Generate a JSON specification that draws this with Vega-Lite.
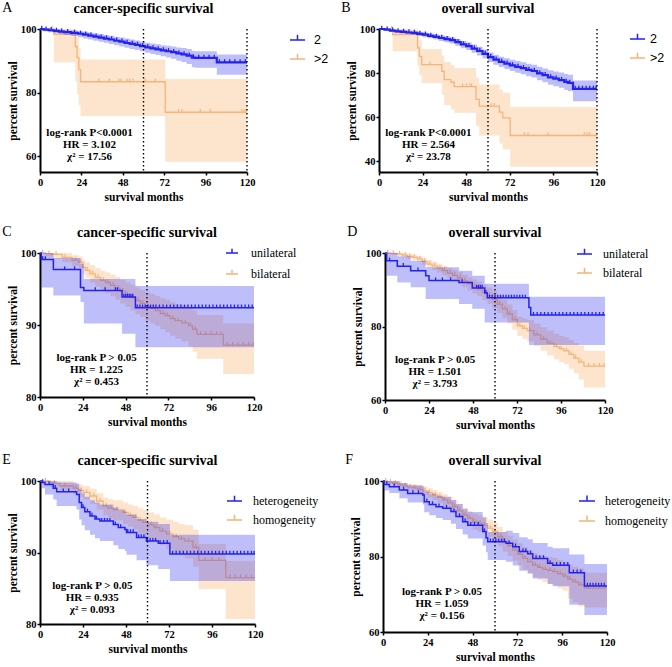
{
"$schema":"https://vega.github.io/schema/vega-lite/v6.json",
"padding":{"left":2,"top":0,"right":0,"bottom":0},
"background":"white",
"datasets":{
"km":[
{"p":"A","g":"2","t":0,"s":100,"lo":100,"hi":100},{"p":"A","g":"2","t":2,"s":99.8,"lo":99.3,"hi":100},{"p":"A","g":"2","t":5,"s":99.6,"lo":99.0,"hi":100},{"p":"A","g":"2","t":8,"s":99.4,"lo":98.7,"hi":99.9},{"p":"A","g":"2","t":11,"s":99.2,"lo":98.4,"hi":99.8},{"p":"A","g":"2","t":14,"s":99.0,"lo":98.1,"hi":99.6},{"p":"A","g":"2","t":18,"s":98.8,"lo":97.8,"hi":99.5},{"p":"A","g":"2","t":22,"s":98.5,"lo":97.4,"hi":99.3},{"p":"A","g":"2","t":25,"s":98.2,"lo":97.0,"hi":99.1},{"p":"A","g":"2","t":28,"s":97.9,"lo":96.7,"hi":98.9},{"p":"A","g":"2","t":31,"s":97.6,"lo":96.3,"hi":98.6},{"p":"A","g":"2","t":34,"s":97.3,"lo":96.0,"hi":98.4},{"p":"A","g":"2","t":37,"s":97.0,"lo":95.7,"hi":98.1},{"p":"A","g":"2","t":40,"s":96.7,"lo":95.3,"hi":97.9},{"p":"A","g":"2","t":43,"s":96.3,"lo":94.9,"hi":97.6},{"p":"A","g":"2","t":46,"s":96.0,"lo":94.5,"hi":97.3},{"p":"A","g":"2","t":49,"s":95.6,"lo":94.1,"hi":97.0},{"p":"A","g":"2","t":52,"s":95.3,"lo":93.7,"hi":96.7},{"p":"A","g":"2","t":55,"s":95.0,"lo":93.4,"hi":96.4},{"p":"A","g":"2","t":58,"s":94.6,"lo":93.0,"hi":96.1},{"p":"A","g":"2","t":61,"s":94.2,"lo":92.5,"hi":95.7},{"p":"A","g":"2","t":64,"s":93.9,"lo":92.1,"hi":95.4},{"p":"A","g":"2","t":67,"s":93.6,"lo":91.8,"hi":95.2},{"p":"A","g":"2","t":70,"s":93.3,"lo":91.4,"hi":94.9},{"p":"A","g":"2","t":73,"s":93.0,"lo":91.0,"hi":94.7},{"p":"A","g":"2","t":76,"s":92.7,"lo":90.6,"hi":94.5},{"p":"A","g":"2","t":79,"s":92.3,"lo":90.0,"hi":94.2},{"p":"A","g":"2","t":82,"s":92.0,"lo":89.6,"hi":94.0},{"p":"A","g":"2","t":85,"s":91.6,"lo":89.0,"hi":93.7},{"p":"A","g":"2","t":88,"s":91.0,"lo":88.0,"hi":93.1},{"p":"A","g":"2","t":90,"s":90.9,"lo":87.8,"hi":93.0},{"p":"A","g":"2","t":102.5,"s":89.5,"lo":85.6,"hi":92.0},{"p":"A","g":"2","t":120,"s":89.5,"lo":85.6,"hi":92.0},
{"p":"A","g":">2","t":0,"s":100,"lo":100,"hi":100},{"p":"A","g":">2","t":8,"s":98.3,"lo":89.5,"hi":100},{"p":"A","g":">2","t":20.5,"s":94.5,"lo":83.5,"hi":99.5},{"p":"A","g":">2","t":21.5,"s":91,"lo":79.5,"hi":97.5},{"p":"A","g":">2","t":22.5,"s":87.2,"lo":76,"hi":94},{"p":"A","g":">2","t":23.5,"s":83.4,"lo":72.6,"hi":90.4},{"p":"A","g":">2","t":72.6,"s":73.8,"lo":58.2,"hi":84.3},{"p":"A","g":">2","t":120,"s":73.8,"lo":58.2,"hi":84.3},
{"p":"B","g":"2","t":0,"s":100,"lo":100,"hi":100},{"p":"B","g":"2","t":3,"s":99.7,"lo":99.3,"hi":100},{"p":"B","g":"2","t":6,"s":99.3,"lo":98.8,"hi":99.9},{"p":"B","g":"2","t":9,"s":98.9,"lo":98.2,"hi":99.6},{"p":"B","g":"2","t":12,"s":98.7,"lo":97.9,"hi":99.4},{"p":"B","g":"2","t":15,"s":98.4,"lo":97.6,"hi":99.2},{"p":"B","g":"2","t":18,"s":98.2,"lo":97.3,"hi":99.0},{"p":"B","g":"2","t":21,"s":97.8,"lo":96.8,"hi":98.7},{"p":"B","g":"2","t":24,"s":97.4,"lo":96.3,"hi":98.4},{"p":"B","g":"2","t":27,"s":96.9,"lo":95.8,"hi":98.0},{"p":"B","g":"2","t":30,"s":96.4,"lo":95.2,"hi":97.6},{"p":"B","g":"2","t":33,"s":95.9,"lo":94.6,"hi":97.2},{"p":"B","g":"2","t":36,"s":95.4,"lo":94.0,"hi":96.8},{"p":"B","g":"2","t":39,"s":94.9,"lo":93.4,"hi":96.3},{"p":"B","g":"2","t":42,"s":94.0,"lo":92.4,"hi":95.5},{"p":"B","g":"2","t":45,"s":93.0,"lo":91.3,"hi":94.6},{"p":"B","g":"2","t":48,"s":92.2,"lo":90.4,"hi":93.9},{"p":"B","g":"2","t":51,"s":91.1,"lo":89.2,"hi":92.9},{"p":"B","g":"2","t":54,"s":90.0,"lo":88.0,"hi":91.9},{"p":"B","g":"2","t":57,"s":88.7,"lo":86.6,"hi":90.7},{"p":"B","g":"2","t":60,"s":87.2,"lo":85.0,"hi":89.3},{"p":"B","g":"2","t":63,"s":86.1,"lo":83.8,"hi":88.3},{"p":"B","g":"2","t":66,"s":85.1,"lo":82.7,"hi":87.4},{"p":"B","g":"2","t":69,"s":84.3,"lo":81.8,"hi":86.7},{"p":"B","g":"2","t":72,"s":83.5,"lo":80.9,"hi":86.0},{"p":"B","g":"2","t":75,"s":82.8,"lo":80.1,"hi":85.4},{"p":"B","g":"2","t":78,"s":82.2,"lo":79.4,"hi":84.9},{"p":"B","g":"2","t":81,"s":81.4,"lo":78.5,"hi":84.2},{"p":"B","g":"2","t":84,"s":80.9,"lo":77.9,"hi":83.8},{"p":"B","g":"2","t":87,"s":79.8,"lo":76.7,"hi":82.8},{"p":"B","g":"2","t":90,"s":79.0,"lo":75.8,"hi":82.1},{"p":"B","g":"2","t":93,"s":78.0,"lo":74.7,"hi":81.2},{"p":"B","g":"2","t":96,"s":77.4,"lo":74.0,"hi":80.7},{"p":"B","g":"2","t":99,"s":76.8,"lo":73.3,"hi":80.2},{"p":"B","g":"2","t":102,"s":76.0,"lo":72.3,"hi":79.6},{"p":"B","g":"2","t":104,"s":75.5,"lo":71.7,"hi":79.2},{"p":"B","g":"2","t":106.8,"s":72.8,"lo":67.2,"hi":76.6},{"p":"B","g":"2","t":120,"s":72.8,"lo":67.2,"hi":76.6},
{"p":"B","g":">2","t":0,"s":100,"lo":100,"hi":100},{"p":"B","g":">2","t":7.5,"s":97.5,"lo":89.9,"hi":100},{"p":"B","g":">2","t":21.2,"s":91.4,"lo":83,"hi":99},{"p":"B","g":">2","t":22.2,"s":87.6,"lo":79,"hi":95},{"p":"B","g":">2","t":23.5,"s":83.8,"lo":75.5,"hi":90.9},{"p":"B","g":">2","t":34.6,"s":80.8,"lo":70,"hi":88},{"p":"B","g":">2","t":35.9,"s":77.0,"lo":65.5,"hi":85},{"p":"B","g":">2","t":39.6,"s":75.8,"lo":63.5,"hi":83.5},{"p":"B","g":">2","t":41.4,"s":73.8,"lo":61.9,"hi":82.3},{"p":"B","g":">2","t":53.4,"s":68.0,"lo":56,"hi":78},{"p":"B","g":">2","t":55.2,"s":64.9,"lo":51.6,"hi":74.8},{"p":"B","g":">2","t":66.3,"s":62.2,"lo":48,"hi":72.5},{"p":"B","g":">2","t":68.1,"s":59.6,"lo":45.3,"hi":71},{"p":"B","g":">2","t":72.2,"s":51.6,"lo":37.4,"hi":64.6},{"p":"B","g":">2","t":120,"s":51.6,"lo":37.4,"hi":64.6},
{"p":"C","g":"unilateral","t":0,"s":100,"lo":100,"hi":100},{"p":"C","g":"unilateral","t":0.7,"s":99.1,"lo":95.2,"hi":100},{"p":"C","g":"unilateral","t":7.5,"s":97.7,"lo":94.1,"hi":99.3},{"p":"C","g":"unilateral","t":22.7,"s":95.2,"lo":93.2,"hi":98.5},{"p":"C","g":"unilateral","t":24.6,"s":94.8,"lo":90.2,"hi":96.4},{"p":"C","g":"unilateral","t":46,"s":93.9,"lo":88.8,"hi":96.4},{"p":"C","g":"unilateral","t":53.5,"s":92.4,"lo":86.9,"hi":95.4},{"p":"C","g":"unilateral","t":120,"s":92.4,"lo":86.9,"hi":95.4},
{"p":"C","g":"bilateral","t":0,"s":100,"lo":100,"hi":100},{"p":"C","g":"bilateral","t":3,"s":99.9,"lo":99.5,"hi":100},{"p":"C","g":"bilateral","t":7,"s":99.8,"lo":99.2,"hi":100},{"p":"C","g":"bilateral","t":12.5,"s":99.4,"lo":98.7,"hi":100},{"p":"C","g":"bilateral","t":18,"s":99.0,"lo":98.2,"hi":99.7},{"p":"C","g":"bilateral","t":21.8,"s":98.7,"lo":97.8,"hi":99.5},{"p":"C","g":"bilateral","t":24,"s":98.0,"lo":97.0,"hi":99.0},{"p":"C","g":"bilateral","t":25.5,"s":97.6,"lo":96.5,"hi":98.7},{"p":"C","g":"bilateral","t":28,"s":97.1,"lo":95.9,"hi":98.3},{"p":"C","g":"bilateral","t":31,"s":96.6,"lo":95.3,"hi":97.9},{"p":"C","g":"bilateral","t":34,"s":96.2,"lo":94.8,"hi":97.5},{"p":"C","g":"bilateral","t":36.7,"s":95.9,"lo":94.4,"hi":97.3},{"p":"C","g":"bilateral","t":39.5,"s":95.5,"lo":94.0,"hi":97.0},{"p":"C","g":"bilateral","t":42.3,"s":95.1,"lo":93.5,"hi":96.7},{"p":"C","g":"bilateral","t":45,"s":94.7,"lo":93.0,"hi":96.3},{"p":"C","g":"bilateral","t":47.9,"s":94.2,"lo":92.5,"hi":95.9},{"p":"C","g":"bilateral","t":50.7,"s":93.8,"lo":92.0,"hi":95.6},{"p":"C","g":"bilateral","t":53.5,"s":93.4,"lo":91.5,"hi":95.2},{"p":"C","g":"bilateral","t":56.3,"s":93.0,"lo":91.1,"hi":94.9},{"p":"C","g":"bilateral","t":59,"s":92.6,"lo":90.6,"hi":94.5},{"p":"C","g":"bilateral","t":62,"s":92.3,"lo":90.2,"hi":94.3},{"p":"C","g":"bilateral","t":64.7,"s":92.0,"lo":89.9,"hi":94.0},{"p":"C","g":"bilateral","t":67.5,"s":91.6,"lo":89.4,"hi":93.7},{"p":"C","g":"bilateral","t":70.2,"s":91.3,"lo":89.0,"hi":93.5},{"p":"C","g":"bilateral","t":73,"s":90.9,"lo":88.5,"hi":93.2},{"p":"C","g":"bilateral","t":75.8,"s":90.6,"lo":88.1,"hi":92.9},{"p":"C","g":"bilateral","t":79.5,"s":90.3,"lo":87.7,"hi":92.7},{"p":"C","g":"bilateral","t":83.3,"s":89.9,"lo":87.0,"hi":92.4},{"p":"C","g":"bilateral","t":85.5,"s":89.4,"lo":86.3,"hi":92.0},{"p":"C","g":"bilateral","t":88,"s":88.7,"lo":85.3,"hi":91.4},{"p":"C","g":"bilateral","t":102.8,"s":87.2,"lo":83.2,"hi":90.2},{"p":"C","g":"bilateral","t":120,"s":87.2,"lo":83.2,"hi":90.2},
{"p":"D","g":"unilateral","t":0,"s":100,"lo":100,"hi":100},{"p":"D","g":"unilateral","t":0.9,"s":97.9,"lo":93.8,"hi":100},{"p":"D","g":"unilateral","t":6.7,"s":96.4,"lo":92.0,"hi":99.1},{"p":"D","g":"unilateral","t":14,"s":95.2,"lo":90.7,"hi":97.9},{"p":"D","g":"unilateral","t":22.2,"s":93.8,"lo":87.5,"hi":96.1},{"p":"D","g":"unilateral","t":24,"s":92.5,"lo":87.5,"hi":96.1},{"p":"D","g":"unilateral","t":40.4,"s":92.0,"lo":86.1,"hi":95.2},{"p":"D","g":"unilateral","t":47.6,"s":90.5,"lo":84.8,"hi":93.8},{"p":"D","g":"unilateral","t":54.4,"s":89.1,"lo":81.1,"hi":91.6},{"p":"D","g":"unilateral","t":55.8,"s":87.8,"lo":81.1,"hi":91.6},{"p":"D","g":"unilateral","t":78.5,"s":85.2,"lo":75.0,"hi":88.1},{"p":"D","g":"unilateral","t":79.5,"s":83.1,"lo":75.0,"hi":88.1},{"p":"D","g":"unilateral","t":120,"s":83.1,"lo":75.0,"hi":88.1},
{"p":"D","g":"bilateral","t":0,"s":100,"lo":100,"hi":100},{"p":"D","g":"bilateral","t":3,"s":99.9,"lo":99.5,"hi":100},{"p":"D","g":"bilateral","t":6.7,"s":99.7,"lo":99.2,"hi":100},{"p":"D","g":"bilateral","t":9.5,"s":99.4,"lo":98.8,"hi":100},{"p":"D","g":"bilateral","t":12.2,"s":99.1,"lo":98.4,"hi":99.7},{"p":"D","g":"bilateral","t":15,"s":98.8,"lo":98.0,"hi":99.5},{"p":"D","g":"bilateral","t":17.6,"s":98.4,"lo":97.6,"hi":99.2},{"p":"D","g":"bilateral","t":20.3,"s":97.7,"lo":96.8,"hi":98.6},{"p":"D","g":"bilateral","t":23,"s":97.0,"lo":96.0,"hi":98.0},{"p":"D","g":"bilateral","t":25.7,"s":96.5,"lo":95.4,"hi":97.6},{"p":"D","g":"bilateral","t":28.5,"s":95.9,"lo":94.7,"hi":97.1},{"p":"D","g":"bilateral","t":31.2,"s":95.2,"lo":93.9,"hi":96.5},{"p":"D","g":"bilateral","t":34,"s":94.5,"lo":93.1,"hi":95.9},{"p":"D","g":"bilateral","t":36.8,"s":93.9,"lo":92.4,"hi":95.4},{"p":"D","g":"bilateral","t":39.5,"s":93.2,"lo":91.6,"hi":94.8},{"p":"D","g":"bilateral","t":42.3,"s":92.4,"lo":90.7,"hi":94.1},{"p":"D","g":"bilateral","t":45,"s":91.6,"lo":89.8,"hi":93.4},{"p":"D","g":"bilateral","t":47.7,"s":90.9,"lo":89.0,"hi":92.8},{"p":"D","g":"bilateral","t":50.4,"s":90.2,"lo":88.2,"hi":92.2},{"p":"D","g":"bilateral","t":53.1,"s":89.3,"lo":87.2,"hi":91.4},{"p":"D","g":"bilateral","t":55.8,"s":88.4,"lo":86.2,"hi":90.6},{"p":"D","g":"bilateral","t":58.6,"s":87.3,"lo":85.0,"hi":89.6},{"p":"D","g":"bilateral","t":61.3,"s":86.1,"lo":83.7,"hi":88.5},{"p":"D","g":"bilateral","t":64,"s":84.8,"lo":82.3,"hi":87.3},{"p":"D","g":"bilateral","t":66.7,"s":83.4,"lo":80.8,"hi":86.0},{"p":"D","g":"bilateral","t":69.5,"s":81.8,"lo":79.1,"hi":84.5},{"p":"D","g":"bilateral","t":72.2,"s":80.2,"lo":77.4,"hi":82.6},{"p":"D","g":"bilateral","t":75,"s":79.5,"lo":76.6,"hi":82.2},{"p":"D","g":"bilateral","t":77.6,"s":78.9,"lo":75.9,"hi":81.8},{"p":"D","g":"bilateral","t":81.3,"s":77.7,"lo":74.6,"hi":80.8},{"p":"D","g":"bilateral","t":84.9,"s":76.6,"lo":73.4,"hi":79.8},{"p":"D","g":"bilateral","t":88.5,"s":75.5,"lo":72.1,"hi":78.9},{"p":"D","g":"bilateral","t":92.2,"s":74.5,"lo":71.0,"hi":78.0},{"p":"D","g":"bilateral","t":95,"s":73.9,"lo":70.3,"hi":77.5},{"p":"D","g":"bilateral","t":97.6,"s":73.4,"lo":69.7,"hi":77.1},{"p":"D","g":"bilateral","t":100.3,"s":72.4,"lo":68.5,"hi":76.3},{"p":"D","g":"bilateral","t":103,"s":71.4,"lo":67.3,"hi":75.5},{"p":"D","g":"bilateral","t":105.7,"s":70.3,"lo":65.6,"hi":74.8},{"p":"D","g":"bilateral","t":108.5,"s":69.2,"lo":63.4,"hi":73.4},{"p":"D","g":"bilateral","t":120,"s":69.2,"lo":63.4,"hi":73.4},
{"p":"E","g":"heterogeneity","t":0,"s":100,"lo":100,"hi":100},{"p":"E","g":"heterogeneity","t":0.9,"s":99.8,"lo":99.0,"hi":100},{"p":"E","g":"heterogeneity","t":2.8,"s":99.5,"lo":98.1,"hi":100},{"p":"E","g":"heterogeneity","t":7.4,"s":99.0,"lo":97.4,"hi":100},{"p":"E","g":"heterogeneity","t":9.3,"s":98.5,"lo":96.5,"hi":99.8},{"p":"E","g":"heterogeneity","t":20.4,"s":98.1,"lo":96.0,"hi":99.6},{"p":"E","g":"heterogeneity","t":21.9,"s":97.0,"lo":94.6,"hi":98.9},{"p":"E","g":"heterogeneity","t":23.2,"s":96.3,"lo":93.8,"hi":98.3},{"p":"E","g":"heterogeneity","t":25,"s":95.7,"lo":93.1,"hi":97.8},{"p":"E","g":"heterogeneity","t":27.9,"s":95.1,"lo":92.5,"hi":97.3},{"p":"E","g":"heterogeneity","t":30.7,"s":94.7,"lo":92.0,"hi":97.0},{"p":"E","g":"heterogeneity","t":33.4,"s":94.4,"lo":91.6,"hi":96.7},{"p":"E","g":"heterogeneity","t":40.9,"s":93.9,"lo":91.0,"hi":96.3},{"p":"E","g":"heterogeneity","t":43.7,"s":93.5,"lo":90.5,"hi":95.9},{"p":"E","g":"heterogeneity","t":47.4,"s":93.2,"lo":90.2,"hi":95.7},{"p":"E","g":"heterogeneity","t":48.3,"s":92.8,"lo":89.7,"hi":95.3},{"p":"E","g":"heterogeneity","t":53.9,"s":92.1,"lo":88.9,"hi":94.7},{"p":"E","g":"heterogeneity","t":59.4,"s":91.6,"lo":88.2,"hi":94.3},{"p":"E","g":"heterogeneity","t":66,"s":91.3,"lo":87.7,"hi":94.0},{"p":"E","g":"heterogeneity","t":72.5,"s":89.8,"lo":86.0,"hi":92.5},{"p":"E","g":"heterogeneity","t":120,"s":89.8,"lo":86.0,"hi":92.5},
{"p":"E","g":"homogeneity","t":0,"s":100,"lo":100,"hi":100},{"p":"E","g":"homogeneity","t":5.6,"s":99.7,"lo":99.2,"hi":100},{"p":"E","g":"homogeneity","t":11.1,"s":99.3,"lo":98.7,"hi":100},{"p":"E","g":"homogeneity","t":18.6,"s":99.0,"lo":98.2,"hi":99.7},{"p":"E","g":"homogeneity","t":21.4,"s":98.7,"lo":97.8,"hi":99.5},{"p":"E","g":"homogeneity","t":24.2,"s":98.4,"lo":97.4,"hi":99.3},{"p":"E","g":"homogeneity","t":27.9,"s":97.9,"lo":96.8,"hi":98.9},{"p":"E","g":"homogeneity","t":31.6,"s":97.2,"lo":96.0,"hi":98.3},{"p":"E","g":"homogeneity","t":35.3,"s":96.5,"lo":95.2,"hi":97.7},{"p":"E","g":"homogeneity","t":38.1,"s":96.2,"lo":94.8,"hi":97.5},{"p":"E","g":"homogeneity","t":40.9,"s":96.0,"lo":94.5,"hi":97.3},{"p":"E","g":"homogeneity","t":46.4,"s":95.6,"lo":94.0,"hi":97.0},{"p":"E","g":"homogeneity","t":49.2,"s":95.2,"lo":93.6,"hi":96.7},{"p":"E","g":"homogeneity","t":52,"s":94.9,"lo":93.2,"hi":96.5},{"p":"E","g":"homogeneity","t":54.8,"s":94.5,"lo":92.7,"hi":96.2},{"p":"E","g":"homogeneity","t":57.6,"s":94.2,"lo":92.4,"hi":95.9},{"p":"E","g":"homogeneity","t":60.4,"s":93.9,"lo":92.0,"hi":95.6},{"p":"E","g":"homogeneity","t":63.6,"s":93.5,"lo":91.6,"hi":95.3},{"p":"E","g":"homogeneity","t":66.9,"s":93.0,"lo":91.0,"hi":94.9},{"p":"E","g":"homogeneity","t":70.6,"s":92.6,"lo":90.5,"hi":94.6},{"p":"E","g":"homogeneity","t":74.3,"s":92.2,"lo":90.0,"hi":94.3},{"p":"E","g":"homogeneity","t":77.5,"s":91.9,"lo":89.6,"hi":94.0},{"p":"E","g":"homogeneity","t":80.8,"s":91.6,"lo":89.2,"hi":93.8},{"p":"E","g":"homogeneity","t":85.4,"s":90.7,"lo":88.0,"hi":93.2},{"p":"E","g":"homogeneity","t":88.6,"s":88.9,"lo":84.9,"hi":91.2},{"p":"E","g":"homogeneity","t":103.7,"s":86.5,"lo":80.7,"hi":88.8},{"p":"E","g":"homogeneity","t":120,"s":86.5,"lo":80.7,"hi":88.8},
{"p":"F","g":"heterogeneity","t":0,"s":100,"lo":100,"hi":100},{"p":"F","g":"heterogeneity","t":0.7,"s":99.1,"lo":97.5,"hi":100},{"p":"F","g":"heterogeneity","t":3.4,"s":98.5,"lo":96.8,"hi":100},{"p":"F","g":"heterogeneity","t":8.75,"s":97.6,"lo":95.4,"hi":99.5},{"p":"F","g":"heterogeneity","t":13.2,"s":96.7,"lo":94.3,"hi":98.9},{"p":"F","g":"heterogeneity","t":21.3,"s":96.3,"lo":93.8,"hi":98.6},{"p":"F","g":"heterogeneity","t":22.1,"s":94.5,"lo":91.7,"hi":97.2},{"p":"F","g":"heterogeneity","t":24.8,"s":93.8,"lo":90.9,"hi":96.6},{"p":"F","g":"heterogeneity","t":28.4,"s":93.2,"lo":90.2,"hi":96.1},{"p":"F","g":"heterogeneity","t":32,"s":92.8,"lo":89.7,"hi":95.8},{"p":"F","g":"heterogeneity","t":36.4,"s":91.9,"lo":88.7,"hi":95.0},{"p":"F","g":"heterogeneity","t":39.1,"s":90.6,"lo":87.3,"hi":93.9},{"p":"F","g":"heterogeneity","t":42.7,"s":89.2,"lo":85.8,"hi":92.6},{"p":"F","g":"heterogeneity","t":45.4,"s":88.3,"lo":84.8,"hi":91.8},{"p":"F","g":"heterogeneity","t":53.4,"s":86.6,"lo":82.9,"hi":90.3},{"p":"F","g":"heterogeneity","t":55.2,"s":85.0,"lo":81.1,"hi":88.9},{"p":"F","g":"heterogeneity","t":56.1,"s":83.9,"lo":79.1,"hi":86.5},{"p":"F","g":"heterogeneity","t":65.9,"s":83.5,"lo":78.6,"hi":86.8},{"p":"F","g":"heterogeneity","t":69.5,"s":82.6,"lo":77.6,"hi":86.2},{"p":"F","g":"heterogeneity","t":73,"s":81.3,"lo":76.2,"hi":85.1},{"p":"F","g":"heterogeneity","t":77.5,"s":80.7,"lo":75.5,"hi":84.6},{"p":"F","g":"heterogeneity","t":80.2,"s":79.5,"lo":74.2,"hi":83.6},{"p":"F","g":"heterogeneity","t":88.2,"s":78.2,"lo":72.7,"hi":82.6},{"p":"F","g":"heterogeneity","t":90.9,"s":77.7,"lo":72.1,"hi":82.2},{"p":"F","g":"heterogeneity","t":99.8,"s":75.7,"lo":67.2,"hi":80.5},{"p":"F","g":"heterogeneity","t":107.9,"s":72.2,"lo":64.5,"hi":78.0},{"p":"F","g":"heterogeneity","t":120,"s":72.2,"lo":64.5,"hi":78.0},
{"p":"F","g":"homogeneity","t":0,"s":100,"lo":100,"hi":100},{"p":"F","g":"homogeneity","t":2.6,"s":99.7,"lo":99.2,"hi":100},{"p":"F","g":"homogeneity","t":5.2,"s":99.4,"lo":98.8,"hi":100},{"p":"F","g":"homogeneity","t":7.9,"s":99.0,"lo":98.3,"hi":99.8},{"p":"F","g":"homogeneity","t":10.5,"s":98.7,"lo":97.9,"hi":99.5},{"p":"F","g":"homogeneity","t":13.2,"s":98.4,"lo":97.5,"hi":99.3},{"p":"F","g":"homogeneity","t":15.9,"s":98.2,"lo":97.2,"hi":99.1},{"p":"F","g":"homogeneity","t":18.6,"s":97.8,"lo":96.7,"hi":98.8},{"p":"F","g":"homogeneity","t":21.3,"s":97.4,"lo":96.2,"hi":98.5},{"p":"F","g":"homogeneity","t":24,"s":96.9,"lo":95.6,"hi":98.1},{"p":"F","g":"homogeneity","t":26.6,"s":96.3,"lo":94.9,"hi":97.6},{"p":"F","g":"homogeneity","t":29.3,"s":95.7,"lo":94.2,"hi":97.1},{"p":"F","g":"homogeneity","t":32,"s":95.0,"lo":93.4,"hi":96.5},{"p":"F","g":"homogeneity","t":34.7,"s":94.2,"lo":92.5,"hi":95.8},{"p":"F","g":"homogeneity","t":37.3,"s":93.2,"lo":91.4,"hi":94.9},{"p":"F","g":"homogeneity","t":40,"s":92.1,"lo":90.2,"hi":93.9},{"p":"F","g":"homogeneity","t":42.7,"s":91.0,"lo":89.0,"hi":92.9},{"p":"F","g":"homogeneity","t":45.4,"s":90.1,"lo":88.0,"hi":92.1},{"p":"F","g":"homogeneity","t":48,"s":89.2,"lo":87.1,"hi":91.3},{"p":"F","g":"homogeneity","t":50.7,"s":88.8,"lo":86.6,"hi":90.9},{"p":"F","g":"homogeneity","t":53.4,"s":88.3,"lo":86.1,"hi":90.5},{"p":"F","g":"homogeneity","t":56.1,"s":87.5,"lo":85.2,"hi":89.8},{"p":"F","g":"homogeneity","t":58.8,"s":86.6,"lo":84.2,"hi":89.0},{"p":"F","g":"homogeneity","t":61.5,"s":85.3,"lo":82.8,"hi":87.8},{"p":"F","g":"homogeneity","t":64.1,"s":83.9,"lo":81.3,"hi":86.5},{"p":"F","g":"homogeneity","t":66.8,"s":82.8,"lo":80.1,"hi":85.5},{"p":"F","g":"homogeneity","t":69.5,"s":81.7,"lo":78.9,"hi":84.5},{"p":"F","g":"homogeneity","t":72.2,"s":80.6,"lo":77.7,"hi":83.5},{"p":"F","g":"homogeneity","t":74.8,"s":79.5,"lo":76.5,"hi":82.5},{"p":"F","g":"homogeneity","t":77.5,"s":78.6,"lo":75.5,"hi":81.7},{"p":"F","g":"homogeneity","t":80.2,"s":77.7,"lo":74.5,"hi":80.9},{"p":"F","g":"homogeneity","t":82.9,"s":77.1,"lo":73.8,"hi":80.4},{"p":"F","g":"homogeneity","t":85.5,"s":76.6,"lo":73.2,"hi":80.0},{"p":"F","g":"homogeneity","t":88.2,"s":76.3,"lo":72.8,"hi":79.8},{"p":"F","g":"homogeneity","t":90.9,"s":76.0,"lo":72.4,"hi":79.6},{"p":"F","g":"homogeneity","t":93.6,"s":75.4,"lo":71.6,"hi":79.1},{"p":"F","g":"homogeneity","t":96.3,"s":74.8,"lo":70.9,"hi":78.6},{"p":"F","g":"homogeneity","t":99,"s":74.0,"lo":68.8,"hi":77.9},{"p":"F","g":"homogeneity","t":101.6,"s":73.3,"lo":67.8,"hi":77.3},{"p":"F","g":"homogeneity","t":104.7,"s":72.5,"lo":66.8,"hi":76.8},{"p":"F","g":"homogeneity","t":107.9,"s":71.6,"lo":66.5,"hi":75.7},{"p":"F","g":"homogeneity","t":120,"s":71.6,"lo":66.5,"hi":75.7}
],
"cens":[
{"p":"A","g":"2","t":1,"s":100},{"p":"A","g":"2","t":3.5,"s":99.8},{"p":"A","g":"2","t":6.5,"s":99.6},{"p":"A","g":"2","t":9.5,"s":99.4},{"p":"A","g":"2","t":12.5,"s":99.2},{"p":"A","g":"2","t":16,"s":99.0},{"p":"A","g":"2","t":20,"s":98.8},{"p":"A","g":"2","t":23.5,"s":98.5},{"p":"A","g":"2","t":26.5,"s":98.2},{"p":"A","g":"2","t":29.5,"s":97.9},{"p":"A","g":"2","t":32.5,"s":97.6},{"p":"A","g":"2","t":35.5,"s":97.3},{"p":"A","g":"2","t":38.5,"s":97.0},{"p":"A","g":"2","t":41.5,"s":96.7},{"p":"A","g":"2","t":44.5,"s":96.3},{"p":"A","g":"2","t":47.5,"s":96.0},{"p":"A","g":"2","t":50.5,"s":95.6},{"p":"A","g":"2","t":53.5,"s":95.3},{"p":"A","g":"2","t":56.5,"s":95.0},{"p":"A","g":"2","t":59.5,"s":94.6},{"p":"A","g":"2","t":62.5,"s":94.2},{"p":"A","g":"2","t":65.5,"s":93.9},{"p":"A","g":"2","t":68.5,"s":93.6},{"p":"A","g":"2","t":71.5,"s":93.3},{"p":"A","g":"2","t":74.5,"s":93.0},{"p":"A","g":"2","t":77.5,"s":92.7},{"p":"A","g":"2","t":80.5,"s":92.3},{"p":"A","g":"2","t":83.5,"s":92.0},{"p":"A","g":"2","t":86.5,"s":91.6},{"p":"A","g":"2","t":89,"s":91.0},{"p":"A","g":"2","t":92,"s":90.9},{"p":"A","g":"2","t":95,"s":90.9},{"p":"A","g":"2","t":98,"s":90.9},{"p":"A","g":"2","t":101,"s":90.9},{"p":"A","g":"2","t":104,"s":89.5},{"p":"A","g":"2","t":107,"s":89.5},{"p":"A","g":"2","t":110,"s":89.5},{"p":"A","g":"2","t":113,"s":89.5},{"p":"A","g":"2","t":116,"s":89.5},{"p":"A","g":"2","t":119,"s":89.5},
{"p":"A","g":">2","t":7,"s":100},{"p":"A","g":">2","t":34.1,"s":83.4},{"p":"A","g":">2","t":40.3,"s":83.4},{"p":"A","g":">2","t":45.7,"s":83.4},{"p":"A","g":">2","t":47,"s":83.4},{"p":"A","g":">2","t":50.5,"s":83.4},{"p":"A","g":">2","t":52,"s":83.4},{"p":"A","g":">2","t":54,"s":83.4},{"p":"A","g":">2","t":61.1,"s":83.4},{"p":"A","g":">2","t":66.9,"s":83.4},{"p":"A","g":">2","t":80.3,"s":73.8},{"p":"A","g":">2","t":82.3,"s":73.8},{"p":"A","g":">2","t":92.9,"s":73.8},{"p":"A","g":">2","t":98.7,"s":73.8},{"p":"A","g":">2","t":117,"s":73.8},{"p":"A","g":">2","t":118.3,"s":73.8},{"p":"A","g":">2","t":119.5,"s":73.8},
{"p":"B","g":"2","t":1.5,"s":100},{"p":"B","g":"2","t":4.5,"s":99.7},{"p":"B","g":"2","t":7.5,"s":99.3},{"p":"B","g":"2","t":10.5,"s":98.9},{"p":"B","g":"2","t":13.5,"s":98.7},{"p":"B","g":"2","t":16.5,"s":98.4},{"p":"B","g":"2","t":19.5,"s":98.2},{"p":"B","g":"2","t":22.5,"s":97.8},{"p":"B","g":"2","t":25.5,"s":97.4},{"p":"B","g":"2","t":28.5,"s":96.9},{"p":"B","g":"2","t":31.5,"s":96.4},{"p":"B","g":"2","t":34.5,"s":95.9},{"p":"B","g":"2","t":37.5,"s":95.4},{"p":"B","g":"2","t":40.5,"s":94.9},{"p":"B","g":"2","t":43.5,"s":94.0},{"p":"B","g":"2","t":46.5,"s":93.0},{"p":"B","g":"2","t":49.5,"s":92.2},{"p":"B","g":"2","t":52.5,"s":91.1},{"p":"B","g":"2","t":55.5,"s":90.0},{"p":"B","g":"2","t":58.5,"s":88.7},{"p":"B","g":"2","t":61.5,"s":87.2},{"p":"B","g":"2","t":64.5,"s":86.1},{"p":"B","g":"2","t":67.5,"s":85.1},{"p":"B","g":"2","t":70.5,"s":84.3},{"p":"B","g":"2","t":73.5,"s":83.5},{"p":"B","g":"2","t":76.5,"s":82.8},{"p":"B","g":"2","t":79.5,"s":82.2},{"p":"B","g":"2","t":82.5,"s":81.4},{"p":"B","g":"2","t":85.5,"s":80.9},{"p":"B","g":"2","t":88.5,"s":79.8},{"p":"B","g":"2","t":91.5,"s":79.0},{"p":"B","g":"2","t":94.5,"s":78.0},{"p":"B","g":"2","t":97.5,"s":77.4},{"p":"B","g":"2","t":100.5,"s":76.8},{"p":"B","g":"2","t":103,"s":76.0},{"p":"B","g":"2","t":105,"s":75.5},{"p":"B","g":"2","t":108,"s":72.8},{"p":"B","g":"2","t":110,"s":72.8},{"p":"B","g":"2","t":112,"s":72.8},{"p":"B","g":"2","t":114,"s":72.8},{"p":"B","g":"2","t":116,"s":72.8},{"p":"B","g":"2","t":118,"s":72.8},{"p":"B","g":"2","t":119.5,"s":72.8},
{"p":"B","g":">2","t":7,"s":100},{"p":"B","g":">2","t":28,"s":83.8},{"p":"B","g":">2","t":46,"s":73.8},{"p":"B","g":">2","t":48,"s":73.8},{"p":"B","g":">2","t":50,"s":73.8},{"p":"B","g":">2","t":51,"s":73.8},{"p":"B","g":">2","t":61.7,"s":64.9},{"p":"B","g":">2","t":63.5,"s":64.9},{"p":"B","g":">2","t":80,"s":51.6},{"p":"B","g":">2","t":82,"s":51.6},{"p":"B","g":">2","t":93,"s":51.6},{"p":"B","g":">2","t":113,"s":51.6},{"p":"B","g":">2","t":114.5,"s":51.6},{"p":"B","g":">2","t":116,"s":51.6},
{"p":"C","g":"unilateral","t":1.5,"s":99.1},{"p":"C","g":"unilateral","t":3,"s":99.1},{"p":"C","g":"unilateral","t":13.8,"s":97.7},{"p":"C","g":"unilateral","t":19.4,"s":97.7},{"p":"C","g":"unilateral","t":31,"s":94.8},{"p":"C","g":"unilateral","t":36.5,"s":94.8},{"p":"C","g":"unilateral","t":42.3,"s":94.8},{"p":"C","g":"unilateral","t":43.5,"s":94.8},{"p":"C","g":"unilateral","t":47,"s":93.9},{"p":"C","g":"unilateral","t":48,"s":93.9},{"p":"C","g":"unilateral","t":49,"s":93.9},{"p":"C","g":"unilateral","t":50,"s":93.9},{"p":"C","g":"unilateral","t":51,"s":93.9},{"p":"C","g":"unilateral","t":52,"s":93.9},{"p":"C","g":"unilateral","t":54.5,"s":92.4},{"p":"C","g":"unilateral","t":56,"s":92.4},{"p":"C","g":"unilateral","t":57.5,"s":92.4},{"p":"C","g":"unilateral","t":59,"s":92.4},{"p":"C","g":"unilateral","t":60.5,"s":92.4},{"p":"C","g":"unilateral","t":62,"s":92.4},{"p":"C","g":"unilateral","t":63.5,"s":92.4},{"p":"C","g":"unilateral","t":65,"s":92.4},{"p":"C","g":"unilateral","t":67,"s":92.4},{"p":"C","g":"unilateral","t":69,"s":92.4},{"p":"C","g":"unilateral","t":71,"s":92.4},{"p":"C","g":"unilateral","t":73,"s":92.4},{"p":"C","g":"unilateral","t":75,"s":92.4},{"p":"C","g":"unilateral","t":77,"s":92.4},{"p":"C","g":"unilateral","t":79,"s":92.4},{"p":"C","g":"unilateral","t":81,"s":92.4},{"p":"C","g":"unilateral","t":83,"s":92.4},{"p":"C","g":"unilateral","t":85,"s":92.4},{"p":"C","g":"unilateral","t":87,"s":92.4},{"p":"C","g":"unilateral","t":89,"s":92.4},{"p":"C","g":"unilateral","t":91,"s":92.4},{"p":"C","g":"unilateral","t":93,"s":92.4},{"p":"C","g":"unilateral","t":95,"s":92.4},{"p":"C","g":"unilateral","t":97,"s":92.4},{"p":"C","g":"unilateral","t":99,"s":92.4},{"p":"C","g":"unilateral","t":101,"s":92.4},{"p":"C","g":"unilateral","t":103,"s":92.4},{"p":"C","g":"unilateral","t":105,"s":92.4},{"p":"C","g":"unilateral","t":107,"s":92.4},{"p":"C","g":"unilateral","t":109,"s":92.4},{"p":"C","g":"unilateral","t":111,"s":92.4},{"p":"C","g":"unilateral","t":113,"s":92.4},{"p":"C","g":"unilateral","t":115,"s":92.4},{"p":"C","g":"unilateral","t":117,"s":92.4},{"p":"C","g":"unilateral","t":119,"s":92.4},
{"p":"C","g":"bilateral","t":1.5,"s":100},{"p":"C","g":"bilateral","t":5,"s":99.9},{"p":"C","g":"bilateral","t":9,"s":99.8},{"p":"C","g":"bilateral","t":14,"s":99.4},{"p":"C","g":"bilateral","t":20,"s":99.0},{"p":"C","g":"bilateral","t":23,"s":98.7},{"p":"C","g":"bilateral","t":26.5,"s":97.6},{"p":"C","g":"bilateral","t":29.5,"s":97.1},{"p":"C","g":"bilateral","t":32.5,"s":96.6},{"p":"C","g":"bilateral","t":35.5,"s":96.2},{"p":"C","g":"bilateral","t":38,"s":95.9},{"p":"C","g":"bilateral","t":41,"s":95.5},{"p":"C","g":"bilateral","t":44,"s":95.1},{"p":"C","g":"bilateral","t":46.5,"s":94.7},{"p":"C","g":"bilateral","t":49,"s":94.2},{"p":"C","g":"bilateral","t":52,"s":93.8},{"p":"C","g":"bilateral","t":55,"s":93.4},{"p":"C","g":"bilateral","t":57.5,"s":93.0},{"p":"C","g":"bilateral","t":60.5,"s":92.6},{"p":"C","g":"bilateral","t":63.5,"s":92.3},{"p":"C","g":"bilateral","t":66,"s":92.0},{"p":"C","g":"bilateral","t":69,"s":91.6},{"p":"C","g":"bilateral","t":71.5,"s":91.3},{"p":"C","g":"bilateral","t":74.5,"s":90.9},{"p":"C","g":"bilateral","t":77.5,"s":90.6},{"p":"C","g":"bilateral","t":81.5,"s":90.3},{"p":"C","g":"bilateral","t":84.5,"s":89.9},{"p":"C","g":"bilateral","t":87,"s":89.4},{"p":"C","g":"bilateral","t":90,"s":88.7},{"p":"C","g":"bilateral","t":93,"s":88.7},{"p":"C","g":"bilateral","t":96,"s":88.7},{"p":"C","g":"bilateral","t":99,"s":88.7},{"p":"C","g":"bilateral","t":101.5,"s":88.7},{"p":"C","g":"bilateral","t":105,"s":87.2},{"p":"C","g":"bilateral","t":108,"s":87.2},{"p":"C","g":"bilateral","t":111,"s":87.2},{"p":"C","g":"bilateral","t":114,"s":87.2},{"p":"C","g":"bilateral","t":117,"s":87.2},{"p":"C","g":"bilateral","t":119.5,"s":87.2},
{"p":"D","g":"unilateral","t":2.5,"s":97.9},{"p":"D","g":"unilateral","t":10,"s":96.4},{"p":"D","g":"unilateral","t":18,"s":95.2},{"p":"D","g":"unilateral","t":27.6,"s":92.5},{"p":"D","g":"unilateral","t":31.3,"s":92.5},{"p":"D","g":"unilateral","t":35.8,"s":92.5},{"p":"D","g":"unilateral","t":42,"s":92.0},{"p":"D","g":"unilateral","t":50,"s":90.5},{"p":"D","g":"unilateral","t":51,"s":90.5},{"p":"D","g":"unilateral","t":52,"s":90.5},{"p":"D","g":"unilateral","t":53,"s":90.5},{"p":"D","g":"unilateral","t":55,"s":89.1},{"p":"D","g":"unilateral","t":57,"s":87.8},{"p":"D","g":"unilateral","t":58.5,"s":87.8},{"p":"D","g":"unilateral","t":60,"s":87.8},{"p":"D","g":"unilateral","t":61.5,"s":87.8},{"p":"D","g":"unilateral","t":63,"s":87.8},{"p":"D","g":"unilateral","t":64.5,"s":87.8},{"p":"D","g":"unilateral","t":66,"s":87.8},{"p":"D","g":"unilateral","t":67.5,"s":87.8},{"p":"D","g":"unilateral","t":69,"s":87.8},{"p":"D","g":"unilateral","t":70.5,"s":87.8},{"p":"D","g":"unilateral","t":72,"s":87.8},{"p":"D","g":"unilateral","t":73.5,"s":87.8},{"p":"D","g":"unilateral","t":75,"s":87.8},{"p":"D","g":"unilateral","t":76.5,"s":87.8},{"p":"D","g":"unilateral","t":81,"s":83.1},{"p":"D","g":"unilateral","t":83,"s":83.1},{"p":"D","g":"unilateral","t":85,"s":83.1},{"p":"D","g":"unilateral","t":87,"s":83.1},{"p":"D","g":"unilateral","t":89,"s":83.1},{"p":"D","g":"unilateral","t":91,"s":83.1},{"p":"D","g":"unilateral","t":93,"s":83.1},{"p":"D","g":"unilateral","t":95,"s":83.1},{"p":"D","g":"unilateral","t":97,"s":83.1},{"p":"D","g":"unilateral","t":99,"s":83.1},{"p":"D","g":"unilateral","t":101,"s":83.1},{"p":"D","g":"unilateral","t":103,"s":83.1},{"p":"D","g":"unilateral","t":105,"s":83.1},{"p":"D","g":"unilateral","t":107,"s":83.1},{"p":"D","g":"unilateral","t":109,"s":83.1},{"p":"D","g":"unilateral","t":111,"s":83.1},{"p":"D","g":"unilateral","t":113,"s":83.1},{"p":"D","g":"unilateral","t":115,"s":83.1},{"p":"D","g":"unilateral","t":117,"s":83.1},{"p":"D","g":"unilateral","t":119,"s":83.1},
{"p":"D","g":"bilateral","t":1.5,"s":100},{"p":"D","g":"bilateral","t":4.5,"s":99.9},{"p":"D","g":"bilateral","t":8,"s":99.7},{"p":"D","g":"bilateral","t":11,"s":99.4},{"p":"D","g":"bilateral","t":13.5,"s":99.1},{"p":"D","g":"bilateral","t":16,"s":98.8},{"p":"D","g":"bilateral","t":19,"s":98.4},{"p":"D","g":"bilateral","t":21.5,"s":97.7},{"p":"D","g":"bilateral","t":24.5,"s":97.0},{"p":"D","g":"bilateral","t":27,"s":96.5},{"p":"D","g":"bilateral","t":30,"s":95.9},{"p":"D","g":"bilateral","t":32.5,"s":95.2},{"p":"D","g":"bilateral","t":35.5,"s":94.5},{"p":"D","g":"bilateral","t":38,"s":93.9},{"p":"D","g":"bilateral","t":41,"s":93.2},{"p":"D","g":"bilateral","t":43.5,"s":92.4},{"p":"D","g":"bilateral","t":46.5,"s":91.6},{"p":"D","g":"bilateral","t":49,"s":90.9},{"p":"D","g":"bilateral","t":52,"s":90.2},{"p":"D","g":"bilateral","t":54.5,"s":89.3},{"p":"D","g":"bilateral","t":57,"s":88.4},{"p":"D","g":"bilateral","t":60,"s":87.3},{"p":"D","g":"bilateral","t":62.5,"s":86.1},{"p":"D","g":"bilateral","t":65.5,"s":84.8},{"p":"D","g":"bilateral","t":68,"s":83.4},{"p":"D","g":"bilateral","t":71,"s":81.8},{"p":"D","g":"bilateral","t":73.5,"s":80.2},{"p":"D","g":"bilateral","t":76,"s":79.5},{"p":"D","g":"bilateral","t":79,"s":78.9},{"p":"D","g":"bilateral","t":83,"s":77.7},{"p":"D","g":"bilateral","t":86.5,"s":76.6},{"p":"D","g":"bilateral","t":90,"s":75.5},{"p":"D","g":"bilateral","t":93.5,"s":74.5},{"p":"D","g":"bilateral","t":96,"s":73.9},{"p":"D","g":"bilateral","t":99,"s":73.4},{"p":"D","g":"bilateral","t":101.5,"s":72.4},{"p":"D","g":"bilateral","t":104,"s":71.4},{"p":"D","g":"bilateral","t":107,"s":70.3},{"p":"D","g":"bilateral","t":111,"s":69.2},{"p":"D","g":"bilateral","t":114,"s":69.2},{"p":"D","g":"bilateral","t":117,"s":69.2},{"p":"D","g":"bilateral","t":119.5,"s":69.2},
{"p":"E","g":"heterogeneity","t":1.5,"s":99.8},{"p":"E","g":"heterogeneity","t":5,"s":99.5},{"p":"E","g":"heterogeneity","t":8.5,"s":99.0},{"p":"E","g":"heterogeneity","t":13,"s":98.5},{"p":"E","g":"heterogeneity","t":16,"s":98.5},{"p":"E","g":"heterogeneity","t":24,"s":96.3},{"p":"E","g":"heterogeneity","t":26.5,"s":95.7},{"p":"E","g":"heterogeneity","t":29,"s":95.1},{"p":"E","g":"heterogeneity","t":31.5,"s":94.7},{"p":"E","g":"heterogeneity","t":34.5,"s":94.4},{"p":"E","g":"heterogeneity","t":36,"s":94.4},{"p":"E","g":"heterogeneity","t":37.5,"s":94.4},{"p":"E","g":"heterogeneity","t":39,"s":94.4},{"p":"E","g":"heterogeneity","t":42,"s":93.9},{"p":"E","g":"heterogeneity","t":45,"s":93.5},{"p":"E","g":"heterogeneity","t":49,"s":92.8},{"p":"E","g":"heterogeneity","t":50.5,"s":92.8},{"p":"E","g":"heterogeneity","t":52,"s":92.8},{"p":"E","g":"heterogeneity","t":55,"s":92.1},{"p":"E","g":"heterogeneity","t":56.5,"s":92.1},{"p":"E","g":"heterogeneity","t":58,"s":92.1},{"p":"E","g":"heterogeneity","t":60,"s":91.6},{"p":"E","g":"heterogeneity","t":61.5,"s":91.6},{"p":"E","g":"heterogeneity","t":63,"s":91.6},{"p":"E","g":"heterogeneity","t":64.5,"s":91.6},{"p":"E","g":"heterogeneity","t":67,"s":91.3},{"p":"E","g":"heterogeneity","t":69,"s":91.3},{"p":"E","g":"heterogeneity","t":71,"s":91.3},{"p":"E","g":"heterogeneity","t":74,"s":89.8},{"p":"E","g":"heterogeneity","t":76,"s":89.8},{"p":"E","g":"heterogeneity","t":78,"s":89.8},{"p":"E","g":"heterogeneity","t":80,"s":89.8},{"p":"E","g":"heterogeneity","t":82,"s":89.8},{"p":"E","g":"heterogeneity","t":84,"s":89.8},{"p":"E","g":"heterogeneity","t":86,"s":89.8},{"p":"E","g":"heterogeneity","t":88,"s":89.8},{"p":"E","g":"heterogeneity","t":90,"s":89.8},{"p":"E","g":"heterogeneity","t":92,"s":89.8},{"p":"E","g":"heterogeneity","t":94,"s":89.8},{"p":"E","g":"heterogeneity","t":96,"s":89.8},{"p":"E","g":"heterogeneity","t":98,"s":89.8},{"p":"E","g":"heterogeneity","t":100,"s":89.8},{"p":"E","g":"heterogeneity","t":102,"s":89.8},{"p":"E","g":"heterogeneity","t":104,"s":89.8},{"p":"E","g":"heterogeneity","t":106,"s":89.8},{"p":"E","g":"heterogeneity","t":108,"s":89.8},{"p":"E","g":"heterogeneity","t":110,"s":89.8},{"p":"E","g":"heterogeneity","t":112,"s":89.8},{"p":"E","g":"heterogeneity","t":114,"s":89.8},{"p":"E","g":"heterogeneity","t":116,"s":89.8},{"p":"E","g":"heterogeneity","t":118,"s":89.8},{"p":"E","g":"heterogeneity","t":119.5,"s":89.8},
{"p":"E","g":"homogeneity","t":3,"s":100},{"p":"E","g":"homogeneity","t":8,"s":99.7},{"p":"E","g":"homogeneity","t":14,"s":99.3},{"p":"E","g":"homogeneity","t":20,"s":99.0},{"p":"E","g":"homogeneity","t":23,"s":98.7},{"p":"E","g":"homogeneity","t":26,"s":98.4},{"p":"E","g":"homogeneity","t":30,"s":97.9},{"p":"E","g":"homogeneity","t":33.5,"s":97.2},{"p":"E","g":"homogeneity","t":37,"s":96.5},{"p":"E","g":"homogeneity","t":39.5,"s":96.2},{"p":"E","g":"homogeneity","t":43,"s":96.0},{"p":"E","g":"homogeneity","t":47.5,"s":95.6},{"p":"E","g":"homogeneity","t":50.5,"s":95.2},{"p":"E","g":"homogeneity","t":53.5,"s":94.9},{"p":"E","g":"homogeneity","t":56,"s":94.5},{"p":"E","g":"homogeneity","t":59,"s":94.2},{"p":"E","g":"homogeneity","t":62,"s":93.9},{"p":"E","g":"homogeneity","t":65,"s":93.5},{"p":"E","g":"homogeneity","t":68.5,"s":93.0},{"p":"E","g":"homogeneity","t":72.5,"s":92.6},{"p":"E","g":"homogeneity","t":76,"s":92.2},{"p":"E","g":"homogeneity","t":79,"s":91.9},{"p":"E","g":"homogeneity","t":83,"s":91.6},{"p":"E","g":"homogeneity","t":87,"s":90.7},{"p":"E","g":"homogeneity","t":92,"s":88.9},{"p":"E","g":"homogeneity","t":96,"s":88.9},{"p":"E","g":"homogeneity","t":100,"s":88.9},{"p":"E","g":"homogeneity","t":106,"s":86.5},{"p":"E","g":"homogeneity","t":109,"s":86.5},{"p":"E","g":"homogeneity","t":112,"s":86.5},{"p":"E","g":"homogeneity","t":115,"s":86.5},{"p":"E","g":"homogeneity","t":118,"s":86.5},
{"p":"F","g":"heterogeneity","t":2,"s":99.1},{"p":"F","g":"heterogeneity","t":6,"s":98.5},{"p":"F","g":"heterogeneity","t":11,"s":97.6},{"p":"F","g":"heterogeneity","t":16,"s":96.7},{"p":"F","g":"heterogeneity","t":19,"s":96.7},{"p":"F","g":"heterogeneity","t":23.5,"s":94.5},{"p":"F","g":"heterogeneity","t":26.5,"s":93.8},{"p":"F","g":"heterogeneity","t":30,"s":93.2},{"p":"F","g":"heterogeneity","t":34,"s":92.8},{"p":"F","g":"heterogeneity","t":38,"s":91.9},{"p":"F","g":"heterogeneity","t":41,"s":90.6},{"p":"F","g":"heterogeneity","t":44,"s":89.2},{"p":"F","g":"heterogeneity","t":47,"s":88.3},{"p":"F","g":"heterogeneity","t":49,"s":88.3},{"p":"F","g":"heterogeneity","t":51,"s":88.3},{"p":"F","g":"heterogeneity","t":54.3,"s":86.6},{"p":"F","g":"heterogeneity","t":57.5,"s":83.9},{"p":"F","g":"heterogeneity","t":59,"s":83.9},{"p":"F","g":"heterogeneity","t":60.5,"s":83.9},{"p":"F","g":"heterogeneity","t":62,"s":83.9},{"p":"F","g":"heterogeneity","t":63.5,"s":83.9},{"p":"F","g":"heterogeneity","t":65,"s":83.9},{"p":"F","g":"heterogeneity","t":67.5,"s":83.5},{"p":"F","g":"heterogeneity","t":71,"s":82.6},{"p":"F","g":"heterogeneity","t":75,"s":81.3},{"p":"F","g":"heterogeneity","t":76.5,"s":81.3},{"p":"F","g":"heterogeneity","t":79,"s":80.7},{"p":"F","g":"heterogeneity","t":82,"s":79.5},{"p":"F","g":"heterogeneity","t":84,"s":79.5},{"p":"F","g":"heterogeneity","t":86,"s":79.5},{"p":"F","g":"heterogeneity","t":89.5,"s":78.2},{"p":"F","g":"heterogeneity","t":93,"s":77.7},{"p":"F","g":"heterogeneity","t":95,"s":77.7},{"p":"F","g":"heterogeneity","t":97,"s":77.7},{"p":"F","g":"heterogeneity","t":99,"s":77.7},{"p":"F","g":"heterogeneity","t":102,"s":75.7},{"p":"F","g":"heterogeneity","t":104,"s":75.7},{"p":"F","g":"heterogeneity","t":106,"s":75.7},{"p":"F","g":"heterogeneity","t":109.5,"s":72.2},{"p":"F","g":"heterogeneity","t":111,"s":72.2},{"p":"F","g":"heterogeneity","t":112.5,"s":72.2},{"p":"F","g":"heterogeneity","t":114,"s":72.2},{"p":"F","g":"heterogeneity","t":115.5,"s":72.2},{"p":"F","g":"heterogeneity","t":117,"s":72.2},{"p":"F","g":"heterogeneity","t":118.5,"s":72.2},
{"p":"F","g":"homogeneity","t":1.5,"s":100},{"p":"F","g":"homogeneity","t":4,"s":99.7},{"p":"F","g":"homogeneity","t":6.5,"s":99.4},{"p":"F","g":"homogeneity","t":9,"s":99.0},{"p":"F","g":"homogeneity","t":12,"s":98.7},{"p":"F","g":"homogeneity","t":14.5,"s":98.4},{"p":"F","g":"homogeneity","t":17,"s":98.2},{"p":"F","g":"homogeneity","t":20,"s":97.8},{"p":"F","g":"homogeneity","t":22.5,"s":97.4},{"p":"F","g":"homogeneity","t":25,"s":96.9},{"p":"F","g":"homogeneity","t":28,"s":96.3},{"p":"F","g":"homogeneity","t":30.5,"s":95.7},{"p":"F","g":"homogeneity","t":33,"s":95.0},{"p":"F","g":"homogeneity","t":36,"s":94.2},{"p":"F","g":"homogeneity","t":38.5,"s":93.2},{"p":"F","g":"homogeneity","t":41,"s":92.1},{"p":"F","g":"homogeneity","t":44,"s":91.0},{"p":"F","g":"homogeneity","t":46.5,"s":90.1},{"p":"F","g":"homogeneity","t":49,"s":89.2},{"p":"F","g":"homogeneity","t":52,"s":88.8},{"p":"F","g":"homogeneity","t":54.5,"s":88.3},{"p":"F","g":"homogeneity","t":57.5,"s":87.5},{"p":"F","g":"homogeneity","t":60,"s":86.6},{"p":"F","g":"homogeneity","t":63,"s":85.3},{"p":"F","g":"homogeneity","t":65.5,"s":83.9},{"p":"F","g":"homogeneity","t":68,"s":82.8},{"p":"F","g":"homogeneity","t":71,"s":81.7},{"p":"F","g":"homogeneity","t":73.5,"s":80.6},{"p":"F","g":"homogeneity","t":76,"s":79.5},{"p":"F","g":"homogeneity","t":79,"s":78.6},{"p":"F","g":"homogeneity","t":81.5,"s":77.7},{"p":"F","g":"homogeneity","t":84,"s":77.1},{"p":"F","g":"homogeneity","t":87,"s":76.6},{"p":"F","g":"homogeneity","t":89.5,"s":76.3},{"p":"F","g":"homogeneity","t":92,"s":76.0},{"p":"F","g":"homogeneity","t":95,"s":75.4},{"p":"F","g":"homogeneity","t":97.5,"s":74.8},{"p":"F","g":"homogeneity","t":100,"s":74.0},{"p":"F","g":"homogeneity","t":103,"s":73.3},{"p":"F","g":"homogeneity","t":106,"s":72.5},{"p":"F","g":"homogeneity","t":110,"s":71.6},{"p":"F","g":"homogeneity","t":113,"s":71.6},{"p":"F","g":"homogeneity","t":116,"s":71.6},{"p":"F","g":"homogeneity","t":119,"s":71.6}
]
},
"spacing":21,
"resolve":{"scale":{"fill":"independent","stroke":"independent"},"legend":{"fill":"independent","stroke":"independent"}},
"vconcat":[
{"spacing":12,"resolve":{"scale":{"fill":"independent","stroke":"independent"},"legend":{"fill":"independent","stroke":"independent"}},
"hconcat":[
{"title":{"text":"A","anchor":"start","frame":"bounds","offset":-12.5,"dx":-5,"fontSize":14,"fontWeight":"normal"},
"vconcat":[{"width":207,"height":143,"title":{"text":"cancer-specific survival","offset":7},
"layer":[
{"data":{"name":"km"},"transform":[{"filter":"datum.p==='A' && datum.g==='>2'"}],"mark":{"type":"area","interpolate":"step-after","fillOpacity":0.3,"opacity":1},"encoding":{"x":{"field":"t","type":"quantitative","scale":{"domain":[0,120],"nice":false},"axis":{"values":[0,24,48,72,96,120],"title":"survival months","labelOverlap":false}},"y":{"field":"lo","type":"quantitative","scale":{"domain":[55,100],"nice":false,"zero":false},"axis":{"values":[60,70,80,90,100],"title":"percent survival","labelOverlap":false}},"y2":{"field":"hi"},"fill":{"field":"g","type":"nominal","scale":{"domain":["2",">2"],"range":["#2828f0","#f5a55a"]},"legend":{"orient":"none","legendX":249,"legendY":2.5,"direction":"vertical","title":null,"symbolType":"M-1,0H1M0,0V-0.7","symbolSize":225,"symbolStrokeWidth":1.5,"labelFont":"Liberation Sans","labelFontSize":12.5,"labelOffset":8,"rowPadding":4,"padding":0}}}},
{"data":{"name":"km"},"transform":[{"filter":"datum.p==='A' && datum.g==='>2'"}],"mark":{"type":"line","interpolate":"step-after","strokeWidth":1.3},"encoding":{"x":{"field":"t","type":"quantitative","scale":{"domain":[0,120],"nice":false},"axis":{"values":[0,24,48,72,96,120],"title":"survival months","labelOverlap":false}},"y":{"field":"s","type":"quantitative","scale":{"domain":[55,100],"nice":false,"zero":false},"axis":{"values":[60,70,80,90,100],"title":"percent survival","labelOverlap":false}},"stroke":{"field":"g","type":"nominal","scale":{"domain":["2",">2"],"range":["#2222f2","#f5b57a"]},"legend":{"orient":"none","legendX":249,"legendY":2.5,"direction":"vertical","title":null,"symbolType":"M-1,0H1M0,0V-0.7","symbolSize":225,"symbolStrokeWidth":1.5,"labelFont":"Liberation Sans","labelFontSize":12.5,"labelOffset":8,"rowPadding":4,"padding":0}}}},
{"data":{"name":"cens"},"transform":[{"filter":"datum.p==='A' && datum.g==='>2'"}],"mark":{"type":"point","shape":"M0,0V-1","filled":false,"size":40,"strokeWidth":1.2,"opacity":1},"encoding":{"x":{"field":"t","type":"quantitative","scale":{"domain":[0,120],"nice":false},"axis":{"values":[0,24,48,72,96,120],"title":"survival months","labelOverlap":false}},"y":{"field":"s","type":"quantitative","scale":{"domain":[55,100],"nice":false,"zero":false},"axis":{"values":[60,70,80,90,100],"title":"percent survival","labelOverlap":false}},"stroke":{"field":"g","type":"nominal","scale":{"domain":["2",">2"],"range":["#2222f2","#f5b57a"]},"legend":{"orient":"none","legendX":249,"legendY":2.5,"direction":"vertical","title":null,"symbolType":"M-1,0H1M0,0V-0.7","symbolSize":225,"symbolStrokeWidth":1.5,"labelFont":"Liberation Sans","labelFontSize":12.5,"labelOffset":8,"rowPadding":4,"padding":0}}}},
{"data":{"name":"km"},"transform":[{"filter":"datum.p==='A' && datum.g==='2'"}],"mark":{"type":"area","interpolate":"step-after","fillOpacity":0.3,"opacity":1},"encoding":{"x":{"field":"t","type":"quantitative","scale":{"domain":[0,120],"nice":false},"axis":{"values":[0,24,48,72,96,120],"title":"survival months","labelOverlap":false}},"y":{"field":"lo","type":"quantitative","scale":{"domain":[55,100],"nice":false,"zero":false},"axis":{"values":[60,70,80,90,100],"title":"percent survival","labelOverlap":false}},"y2":{"field":"hi"},"fill":{"field":"g","type":"nominal","scale":{"domain":["2",">2"],"range":["#2828f0","#f5a55a"]},"legend":{"orient":"none","legendX":249,"legendY":2.5,"direction":"vertical","title":null,"symbolType":"M-1,0H1M0,0V-0.7","symbolSize":225,"symbolStrokeWidth":1.5,"labelFont":"Liberation Sans","labelFontSize":12.5,"labelOffset":8,"rowPadding":4,"padding":0}}}},
{"data":{"name":"km"},"transform":[{"filter":"datum.p==='A' && datum.g==='2'"}],"mark":{"type":"line","interpolate":"step-after","strokeWidth":2.2},"encoding":{"x":{"field":"t","type":"quantitative","scale":{"domain":[0,120],"nice":false},"axis":{"values":[0,24,48,72,96,120],"title":"survival months","labelOverlap":false}},"y":{"field":"s","type":"quantitative","scale":{"domain":[55,100],"nice":false,"zero":false},"axis":{"values":[60,70,80,90,100],"title":"percent survival","labelOverlap":false}},"stroke":{"field":"g","type":"nominal","scale":{"domain":["2",">2"],"range":["#2222f2","#f5b57a"]},"legend":{"orient":"none","legendX":249,"legendY":2.5,"direction":"vertical","title":null,"symbolType":"M-1,0H1M0,0V-0.7","symbolSize":225,"symbolStrokeWidth":1.5,"labelFont":"Liberation Sans","labelFontSize":12.5,"labelOffset":8,"rowPadding":4,"padding":0}}}},
{"data":{"name":"cens"},"transform":[{"filter":"datum.p==='A' && datum.g==='2'"}],"mark":{"type":"point","shape":"M0,0V-1","filled":false,"size":40,"strokeWidth":1.3,"opacity":1},"encoding":{"x":{"field":"t","type":"quantitative","scale":{"domain":[0,120],"nice":false},"axis":{"values":[0,24,48,72,96,120],"title":"survival months","labelOverlap":false}},"y":{"field":"s","type":"quantitative","scale":{"domain":[55,100],"nice":false,"zero":false},"axis":{"values":[60,70,80,90,100],"title":"percent survival","labelOverlap":false}},"stroke":{"field":"g","type":"nominal","scale":{"domain":["2",">2"],"range":["#2222f2","#f5b57a"]},"legend":{"orient":"none","legendX":249,"legendY":2.5,"direction":"vertical","title":null,"symbolType":"M-1,0H1M0,0V-0.7","symbolSize":225,"symbolStrokeWidth":1.5,"labelFont":"Liberation Sans","labelFontSize":12.5,"labelOffset":8,"rowPadding":4,"padding":0}}}},
{"data":{"values":[{}]},"mark":{"type":"rule","strokeDash":[1.5,2.5],"strokeWidth":1.4,"color":"#000"},"encoding":{"x":{"datum":60,"type":"quantitative"}}},
{"data":{"values":[{}]},"mark":{"type":"rule","strokeDash":[1.5,2.5],"strokeWidth":1.4,"color":"#000"},"encoding":{"x":{"datum":120,"type":"quantitative"}}},
{"data":{"values":[{}]},"mark":{"type":"text","text":["log-rank P<0.0001","HR = 3.102","χ² = 17.56"],"font":"Liberation Serif","fontWeight":"bold","fontSize":11,"lineHeight":12,"align":"center","baseline":"middle","color":"#000"},"encoding":{"x":{"datum":28.7,"type":"quantitative"},"y":{"datum":67.3,"type":"quantitative"}}}
]}]},
{"title":{"text":"B","anchor":"start","frame":"bounds","offset":-12.5,"dx":-5,"fontSize":14,"fontWeight":"normal"},
"vconcat":[{"width":218,"height":143,"title":{"text":"overall survival","offset":7},
"layer":[
{"data":{"name":"km"},"transform":[{"filter":"datum.p==='B' && datum.g==='>2'"}],"mark":{"type":"area","interpolate":"step-after","fillOpacity":0.3,"opacity":1},"encoding":{"x":{"field":"t","type":"quantitative","scale":{"domain":[0,120],"nice":false},"axis":{"values":[0,24,48,72,96,120],"title":"survival months","labelOverlap":false}},"y":{"field":"lo","type":"quantitative","scale":{"domain":[35,100],"nice":false,"zero":false},"axis":{"values":[40,50,60,70,80,90,100],"title":"percent survival","labelOverlap":false}},"y2":{"field":"hi"},"fill":{"field":"g","type":"nominal","scale":{"domain":["2",">2"],"range":["#2828f0","#f5a55a"]},"legend":{"orient":"none","legendX":250,"legendY":1.5,"direction":"vertical","title":null,"symbolType":"M-1,0H1M0,0V-0.7","symbolSize":225,"symbolStrokeWidth":1.5,"labelFont":"Liberation Sans","labelFontSize":12.5,"labelOffset":4,"rowPadding":4,"padding":0}}}},
{"data":{"name":"km"},"transform":[{"filter":"datum.p==='B' && datum.g==='>2'"}],"mark":{"type":"line","interpolate":"step-after","strokeWidth":1.3},"encoding":{"x":{"field":"t","type":"quantitative","scale":{"domain":[0,120],"nice":false},"axis":{"values":[0,24,48,72,96,120],"title":"survival months","labelOverlap":false}},"y":{"field":"s","type":"quantitative","scale":{"domain":[35,100],"nice":false,"zero":false},"axis":{"values":[40,50,60,70,80,90,100],"title":"percent survival","labelOverlap":false}},"stroke":{"field":"g","type":"nominal","scale":{"domain":["2",">2"],"range":["#2222f2","#f5b57a"]},"legend":{"orient":"none","legendX":250,"legendY":1.5,"direction":"vertical","title":null,"symbolType":"M-1,0H1M0,0V-0.7","symbolSize":225,"symbolStrokeWidth":1.5,"labelFont":"Liberation Sans","labelFontSize":12.5,"labelOffset":4,"rowPadding":4,"padding":0}}}},
{"data":{"name":"cens"},"transform":[{"filter":"datum.p==='B' && datum.g==='>2'"}],"mark":{"type":"point","shape":"M0,0V-1","filled":false,"size":40,"strokeWidth":1.2,"opacity":1},"encoding":{"x":{"field":"t","type":"quantitative","scale":{"domain":[0,120],"nice":false},"axis":{"values":[0,24,48,72,96,120],"title":"survival months","labelOverlap":false}},"y":{"field":"s","type":"quantitative","scale":{"domain":[35,100],"nice":false,"zero":false},"axis":{"values":[40,50,60,70,80,90,100],"title":"percent survival","labelOverlap":false}},"stroke":{"field":"g","type":"nominal","scale":{"domain":["2",">2"],"range":["#2222f2","#f5b57a"]},"legend":{"orient":"none","legendX":250,"legendY":1.5,"direction":"vertical","title":null,"symbolType":"M-1,0H1M0,0V-0.7","symbolSize":225,"symbolStrokeWidth":1.5,"labelFont":"Liberation Sans","labelFontSize":12.5,"labelOffset":4,"rowPadding":4,"padding":0}}}},
{"data":{"name":"km"},"transform":[{"filter":"datum.p==='B' && datum.g==='2'"}],"mark":{"type":"area","interpolate":"step-after","fillOpacity":0.3,"opacity":1},"encoding":{"x":{"field":"t","type":"quantitative","scale":{"domain":[0,120],"nice":false},"axis":{"values":[0,24,48,72,96,120],"title":"survival months","labelOverlap":false}},"y":{"field":"lo","type":"quantitative","scale":{"domain":[35,100],"nice":false,"zero":false},"axis":{"values":[40,50,60,70,80,90,100],"title":"percent survival","labelOverlap":false}},"y2":{"field":"hi"},"fill":{"field":"g","type":"nominal","scale":{"domain":["2",">2"],"range":["#2828f0","#f5a55a"]},"legend":{"orient":"none","legendX":250,"legendY":1.5,"direction":"vertical","title":null,"symbolType":"M-1,0H1M0,0V-0.7","symbolSize":225,"symbolStrokeWidth":1.5,"labelFont":"Liberation Sans","labelFontSize":12.5,"labelOffset":4,"rowPadding":4,"padding":0}}}},
{"data":{"name":"km"},"transform":[{"filter":"datum.p==='B' && datum.g==='2'"}],"mark":{"type":"line","interpolate":"step-after","strokeWidth":2.2},"encoding":{"x":{"field":"t","type":"quantitative","scale":{"domain":[0,120],"nice":false},"axis":{"values":[0,24,48,72,96,120],"title":"survival months","labelOverlap":false}},"y":{"field":"s","type":"quantitative","scale":{"domain":[35,100],"nice":false,"zero":false},"axis":{"values":[40,50,60,70,80,90,100],"title":"percent survival","labelOverlap":false}},"stroke":{"field":"g","type":"nominal","scale":{"domain":["2",">2"],"range":["#2222f2","#f5b57a"]},"legend":{"orient":"none","legendX":250,"legendY":1.5,"direction":"vertical","title":null,"symbolType":"M-1,0H1M0,0V-0.7","symbolSize":225,"symbolStrokeWidth":1.5,"labelFont":"Liberation Sans","labelFontSize":12.5,"labelOffset":4,"rowPadding":4,"padding":0}}}},
{"data":{"name":"cens"},"transform":[{"filter":"datum.p==='B' && datum.g==='2'"}],"mark":{"type":"point","shape":"M0,0V-1","filled":false,"size":40,"strokeWidth":1.3,"opacity":1},"encoding":{"x":{"field":"t","type":"quantitative","scale":{"domain":[0,120],"nice":false},"axis":{"values":[0,24,48,72,96,120],"title":"survival months","labelOverlap":false}},"y":{"field":"s","type":"quantitative","scale":{"domain":[35,100],"nice":false,"zero":false},"axis":{"values":[40,50,60,70,80,90,100],"title":"percent survival","labelOverlap":false}},"stroke":{"field":"g","type":"nominal","scale":{"domain":["2",">2"],"range":["#2222f2","#f5b57a"]},"legend":{"orient":"none","legendX":250,"legendY":1.5,"direction":"vertical","title":null,"symbolType":"M-1,0H1M0,0V-0.7","symbolSize":225,"symbolStrokeWidth":1.5,"labelFont":"Liberation Sans","labelFontSize":12.5,"labelOffset":4,"rowPadding":4,"padding":0}}}},
{"data":{"values":[{}]},"mark":{"type":"rule","strokeDash":[1.5,2.5],"strokeWidth":1.4,"color":"#000"},"encoding":{"x":{"datum":60,"type":"quantitative"}}},
{"data":{"values":[{}]},"mark":{"type":"rule","strokeDash":[1.5,2.5],"strokeWidth":1.4,"color":"#000"},"encoding":{"x":{"datum":120,"type":"quantitative"}}},
{"data":{"values":[{}]},"mark":{"type":"text","text":["log-rank P<0.0001","HR = 2.564","χ² = 23.78"],"font":"Liberation Serif","fontWeight":"bold","fontSize":11,"lineHeight":12,"align":"center","baseline":"middle","color":"#000"},"encoding":{"x":{"datum":27.2,"type":"quantitative"},"y":{"datum":52.8,"type":"quantitative"}}}
]}]}
]},
{"spacing":50,"resolve":{"scale":{"fill":"independent","stroke":"independent"},"legend":{"fill":"independent","stroke":"independent"}},
"hconcat":[
{"title":{"text":"C","anchor":"start","frame":"bounds","offset":-12.5,"dx":-5,"fontSize":14,"fontWeight":"normal"},
"vconcat":[{"width":214,"height":144,"title":{"text":"cancer-specific survival","offset":7},
"layer":[
{"data":{"name":"km"},"transform":[{"filter":"datum.p==='C' && datum.g==='bilateral'"}],"mark":{"type":"area","interpolate":"step-after","fillOpacity":0.3,"opacity":1},"encoding":{"x":{"field":"t","type":"quantitative","scale":{"domain":[0,120],"nice":false},"axis":{"values":[0,24,48,72,96,120],"title":"survival months","labelOverlap":false}},"y":{"field":"lo","type":"quantitative","scale":{"domain":[80,100],"nice":false,"zero":false},"axis":{"values":[80,85,90,95,100],"title":"percent survival","labelOverlap":false}},"y2":{"field":"hi"},"fill":{"field":"g","type":"nominal","scale":{"domain":["unilateral","bilateral"],"range":["#2828f0","#f5a55a"]},"legend":{"orient":"none","legendX":185,"legendY":-7,"direction":"vertical","title":null,"symbolType":"M-1,0H1M0,0V-0.7","symbolSize":144,"symbolStrokeWidth":1.5,"labelFont":"Liberation Serif","labelFontSize":12,"labelOffset":12,"rowPadding":7,"padding":0}}}},
{"data":{"name":"km"},"transform":[{"filter":"datum.p==='C' && datum.g==='bilateral'"}],"mark":{"type":"line","interpolate":"step-after","strokeWidth":1.3},"encoding":{"x":{"field":"t","type":"quantitative","scale":{"domain":[0,120],"nice":false},"axis":{"values":[0,24,48,72,96,120],"title":"survival months","labelOverlap":false}},"y":{"field":"s","type":"quantitative","scale":{"domain":[80,100],"nice":false,"zero":false},"axis":{"values":[80,85,90,95,100],"title":"percent survival","labelOverlap":false}},"stroke":{"field":"g","type":"nominal","scale":{"domain":["unilateral","bilateral"],"range":["#2222f2","#f5b57a"]},"legend":{"orient":"none","legendX":185,"legendY":-7,"direction":"vertical","title":null,"symbolType":"M-1,0H1M0,0V-0.7","symbolSize":144,"symbolStrokeWidth":1.5,"labelFont":"Liberation Serif","labelFontSize":12,"labelOffset":12,"rowPadding":7,"padding":0}}}},
{"data":{"name":"cens"},"transform":[{"filter":"datum.p==='C' && datum.g==='bilateral'"}],"mark":{"type":"point","shape":"M0,0V-1","filled":false,"size":40,"strokeWidth":1.2,"opacity":1},"encoding":{"x":{"field":"t","type":"quantitative","scale":{"domain":[0,120],"nice":false},"axis":{"values":[0,24,48,72,96,120],"title":"survival months","labelOverlap":false}},"y":{"field":"s","type":"quantitative","scale":{"domain":[80,100],"nice":false,"zero":false},"axis":{"values":[80,85,90,95,100],"title":"percent survival","labelOverlap":false}},"stroke":{"field":"g","type":"nominal","scale":{"domain":["unilateral","bilateral"],"range":["#2222f2","#f5b57a"]},"legend":{"orient":"none","legendX":185,"legendY":-7,"direction":"vertical","title":null,"symbolType":"M-1,0H1M0,0V-0.7","symbolSize":144,"symbolStrokeWidth":1.5,"labelFont":"Liberation Serif","labelFontSize":12,"labelOffset":12,"rowPadding":7,"padding":0}}}},
{"data":{"name":"km"},"transform":[{"filter":"datum.p==='C' && datum.g==='unilateral'"}],"mark":{"type":"area","interpolate":"step-after","fillOpacity":0.3,"opacity":1},"encoding":{"x":{"field":"t","type":"quantitative","scale":{"domain":[0,120],"nice":false},"axis":{"values":[0,24,48,72,96,120],"title":"survival months","labelOverlap":false}},"y":{"field":"lo","type":"quantitative","scale":{"domain":[80,100],"nice":false,"zero":false},"axis":{"values":[80,85,90,95,100],"title":"percent survival","labelOverlap":false}},"y2":{"field":"hi"},"fill":{"field":"g","type":"nominal","scale":{"domain":["unilateral","bilateral"],"range":["#2828f0","#f5a55a"]},"legend":{"orient":"none","legendX":185,"legendY":-7,"direction":"vertical","title":null,"symbolType":"M-1,0H1M0,0V-0.7","symbolSize":144,"symbolStrokeWidth":1.5,"labelFont":"Liberation Serif","labelFontSize":12,"labelOffset":12,"rowPadding":7,"padding":0}}}},
{"data":{"name":"km"},"transform":[{"filter":"datum.p==='C' && datum.g==='unilateral'"}],"mark":{"type":"line","interpolate":"step-after","strokeWidth":1.5},"encoding":{"x":{"field":"t","type":"quantitative","scale":{"domain":[0,120],"nice":false},"axis":{"values":[0,24,48,72,96,120],"title":"survival months","labelOverlap":false}},"y":{"field":"s","type":"quantitative","scale":{"domain":[80,100],"nice":false,"zero":false},"axis":{"values":[80,85,90,95,100],"title":"percent survival","labelOverlap":false}},"stroke":{"field":"g","type":"nominal","scale":{"domain":["unilateral","bilateral"],"range":["#2222f2","#f5b57a"]},"legend":{"orient":"none","legendX":185,"legendY":-7,"direction":"vertical","title":null,"symbolType":"M-1,0H1M0,0V-0.7","symbolSize":144,"symbolStrokeWidth":1.5,"labelFont":"Liberation Serif","labelFontSize":12,"labelOffset":12,"rowPadding":7,"padding":0}}}},
{"data":{"name":"cens"},"transform":[{"filter":"datum.p==='C' && datum.g==='unilateral'"}],"mark":{"type":"point","shape":"M0,0V-1","filled":false,"size":40,"strokeWidth":1.3,"opacity":1},"encoding":{"x":{"field":"t","type":"quantitative","scale":{"domain":[0,120],"nice":false},"axis":{"values":[0,24,48,72,96,120],"title":"survival months","labelOverlap":false}},"y":{"field":"s","type":"quantitative","scale":{"domain":[80,100],"nice":false,"zero":false},"axis":{"values":[80,85,90,95,100],"title":"percent survival","labelOverlap":false}},"stroke":{"field":"g","type":"nominal","scale":{"domain":["unilateral","bilateral"],"range":["#2222f2","#f5b57a"]},"legend":{"orient":"none","legendX":185,"legendY":-7,"direction":"vertical","title":null,"symbolType":"M-1,0H1M0,0V-0.7","symbolSize":144,"symbolStrokeWidth":1.5,"labelFont":"Liberation Serif","labelFontSize":12,"labelOffset":12,"rowPadding":7,"padding":0}}}},
{"data":{"values":[{}]},"mark":{"type":"rule","strokeDash":[1.5,2.5],"strokeWidth":1.4,"color":"#000"},"encoding":{"x":{"datum":60,"type":"quantitative"}}},
{"data":{"values":[{}]},"mark":{"type":"text","text":["log-rank P > 0.05","HR = 1.225","χ² = 0.453"],"font":"Liberation Serif","fontWeight":"bold","fontSize":11,"lineHeight":12,"align":"center","baseline":"middle","color":"#000"},"encoding":{"x":{"datum":31.7,"type":"quantitative"},"y":{"datum":85.4,"type":"quantitative"}}}
]}]},
{"title":{"text":"D","anchor":"start","frame":"bounds","offset":-12.5,"dx":-5,"fontSize":14,"fontWeight":"normal"},
"vconcat":[{"width":220,"height":147,"title":{"text":"overall survival","offset":7},
"layer":[
{"data":{"name":"km"},"transform":[{"filter":"datum.p==='D' && datum.g==='bilateral'"}],"mark":{"type":"area","interpolate":"step-after","fillOpacity":0.3,"opacity":1},"encoding":{"x":{"field":"t","type":"quantitative","scale":{"domain":[0,120],"nice":false},"axis":{"values":[0,24,48,72,96,120],"title":"survival months","labelOverlap":false}},"y":{"field":"lo","type":"quantitative","scale":{"domain":[60,100],"nice":false,"zero":false},"axis":{"values":[60,70,80,90,100],"title":"percent survival","labelOverlap":false}},"y2":{"field":"hi"},"fill":{"field":"g","type":"nominal","scale":{"domain":["unilateral","bilateral"],"range":["#2828f0","#f5a55a"]},"legend":{"orient":"none","legendX":191,"legendY":-7.5,"direction":"vertical","title":null,"symbolType":"M-1,0H1M0,0V-0.7","symbolSize":225,"symbolStrokeWidth":1.5,"labelFont":"Liberation Serif","labelFontSize":12,"labelOffset":10,"rowPadding":4,"padding":0}}}},
{"data":{"name":"km"},"transform":[{"filter":"datum.p==='D' && datum.g==='bilateral'"}],"mark":{"type":"line","interpolate":"step-after","strokeWidth":1.3},"encoding":{"x":{"field":"t","type":"quantitative","scale":{"domain":[0,120],"nice":false},"axis":{"values":[0,24,48,72,96,120],"title":"survival months","labelOverlap":false}},"y":{"field":"s","type":"quantitative","scale":{"domain":[60,100],"nice":false,"zero":false},"axis":{"values":[60,70,80,90,100],"title":"percent survival","labelOverlap":false}},"stroke":{"field":"g","type":"nominal","scale":{"domain":["unilateral","bilateral"],"range":["#2222f2","#f5b57a"]},"legend":{"orient":"none","legendX":191,"legendY":-7.5,"direction":"vertical","title":null,"symbolType":"M-1,0H1M0,0V-0.7","symbolSize":225,"symbolStrokeWidth":1.5,"labelFont":"Liberation Serif","labelFontSize":12,"labelOffset":10,"rowPadding":4,"padding":0}}}},
{"data":{"name":"cens"},"transform":[{"filter":"datum.p==='D' && datum.g==='bilateral'"}],"mark":{"type":"point","shape":"M0,0V-1","filled":false,"size":40,"strokeWidth":1.2,"opacity":1},"encoding":{"x":{"field":"t","type":"quantitative","scale":{"domain":[0,120],"nice":false},"axis":{"values":[0,24,48,72,96,120],"title":"survival months","labelOverlap":false}},"y":{"field":"s","type":"quantitative","scale":{"domain":[60,100],"nice":false,"zero":false},"axis":{"values":[60,70,80,90,100],"title":"percent survival","labelOverlap":false}},"stroke":{"field":"g","type":"nominal","scale":{"domain":["unilateral","bilateral"],"range":["#2222f2","#f5b57a"]},"legend":{"orient":"none","legendX":191,"legendY":-7.5,"direction":"vertical","title":null,"symbolType":"M-1,0H1M0,0V-0.7","symbolSize":225,"symbolStrokeWidth":1.5,"labelFont":"Liberation Serif","labelFontSize":12,"labelOffset":10,"rowPadding":4,"padding":0}}}},
{"data":{"name":"km"},"transform":[{"filter":"datum.p==='D' && datum.g==='unilateral'"}],"mark":{"type":"area","interpolate":"step-after","fillOpacity":0.3,"opacity":1},"encoding":{"x":{"field":"t","type":"quantitative","scale":{"domain":[0,120],"nice":false},"axis":{"values":[0,24,48,72,96,120],"title":"survival months","labelOverlap":false}},"y":{"field":"lo","type":"quantitative","scale":{"domain":[60,100],"nice":false,"zero":false},"axis":{"values":[60,70,80,90,100],"title":"percent survival","labelOverlap":false}},"y2":{"field":"hi"},"fill":{"field":"g","type":"nominal","scale":{"domain":["unilateral","bilateral"],"range":["#2828f0","#f5a55a"]},"legend":{"orient":"none","legendX":191,"legendY":-7.5,"direction":"vertical","title":null,"symbolType":"M-1,0H1M0,0V-0.7","symbolSize":225,"symbolStrokeWidth":1.5,"labelFont":"Liberation Serif","labelFontSize":12,"labelOffset":10,"rowPadding":4,"padding":0}}}},
{"data":{"name":"km"},"transform":[{"filter":"datum.p==='D' && datum.g==='unilateral'"}],"mark":{"type":"line","interpolate":"step-after","strokeWidth":1.5},"encoding":{"x":{"field":"t","type":"quantitative","scale":{"domain":[0,120],"nice":false},"axis":{"values":[0,24,48,72,96,120],"title":"survival months","labelOverlap":false}},"y":{"field":"s","type":"quantitative","scale":{"domain":[60,100],"nice":false,"zero":false},"axis":{"values":[60,70,80,90,100],"title":"percent survival","labelOverlap":false}},"stroke":{"field":"g","type":"nominal","scale":{"domain":["unilateral","bilateral"],"range":["#2222f2","#f5b57a"]},"legend":{"orient":"none","legendX":191,"legendY":-7.5,"direction":"vertical","title":null,"symbolType":"M-1,0H1M0,0V-0.7","symbolSize":225,"symbolStrokeWidth":1.5,"labelFont":"Liberation Serif","labelFontSize":12,"labelOffset":10,"rowPadding":4,"padding":0}}}},
{"data":{"name":"cens"},"transform":[{"filter":"datum.p==='D' && datum.g==='unilateral'"}],"mark":{"type":"point","shape":"M0,0V-1","filled":false,"size":40,"strokeWidth":1.3,"opacity":1},"encoding":{"x":{"field":"t","type":"quantitative","scale":{"domain":[0,120],"nice":false},"axis":{"values":[0,24,48,72,96,120],"title":"survival months","labelOverlap":false}},"y":{"field":"s","type":"quantitative","scale":{"domain":[60,100],"nice":false,"zero":false},"axis":{"values":[60,70,80,90,100],"title":"percent survival","labelOverlap":false}},"stroke":{"field":"g","type":"nominal","scale":{"domain":["unilateral","bilateral"],"range":["#2222f2","#f5b57a"]},"legend":{"orient":"none","legendX":191,"legendY":-7.5,"direction":"vertical","title":null,"symbolType":"M-1,0H1M0,0V-0.7","symbolSize":225,"symbolStrokeWidth":1.5,"labelFont":"Liberation Serif","labelFontSize":12,"labelOffset":10,"rowPadding":4,"padding":0}}}},
{"data":{"values":[{}]},"mark":{"type":"rule","strokeDash":[1.5,2.5],"strokeWidth":1.4,"color":"#000"},"encoding":{"x":{"datum":60,"type":"quantitative"}}},
{"data":{"values":[{}]},"mark":{"type":"text","text":["log-rank P > 0.05","HR = 1.501","χ² = 3.793"],"font":"Liberation Serif","fontWeight":"bold","fontSize":11,"lineHeight":12,"align":"center","baseline":"middle","color":"#000"},"encoding":{"x":{"datum":27.3,"type":"quantitative"},"y":{"datum":71.0,"type":"quantitative"}}}
]}]}
]},
{"spacing":26,"resolve":{"scale":{"fill":"independent","stroke":"independent"},"legend":{"fill":"independent","stroke":"independent"}},
"hconcat":[
{"title":{"text":"E","anchor":"start","frame":"bounds","offset":-12.5,"dx":-5,"fontSize":14,"fontWeight":"normal"},
"vconcat":[{"width":215,"height":143,"title":{"text":"cancer-specific survival","offset":7},
"layer":[
{"data":{"name":"km"},"transform":[{"filter":"datum.p==='E' && datum.g==='homogeneity'"}],"mark":{"type":"area","interpolate":"step-after","fillOpacity":0.3,"opacity":1},"encoding":{"x":{"field":"t","type":"quantitative","scale":{"domain":[0,120],"nice":false},"axis":{"values":[0,24,48,72,96,120],"title":"survival months","labelOverlap":false}},"y":{"field":"lo","type":"quantitative","scale":{"domain":[80,100],"nice":false,"zero":false},"axis":{"values":[80,85,90,95,100],"title":"percent survival","labelOverlap":false}},"y2":{"field":"hi"},"fill":{"field":"g","type":"nominal","scale":{"domain":["heterogeneity","homogeneity"],"range":["#2828f0","#f5a55a"]},"legend":{"orient":"none","legendX":186,"legendY":11.5,"direction":"vertical","title":null,"symbolType":"M-1,0H1M0,0V-0.7","symbolSize":225,"symbolStrokeWidth":1.5,"labelFont":"Liberation Serif","labelFontSize":12,"labelOffset":10,"rowPadding":4,"padding":0}}}},
{"data":{"name":"km"},"transform":[{"filter":"datum.p==='E' && datum.g==='homogeneity'"}],"mark":{"type":"line","interpolate":"step-after","strokeWidth":1.3},"encoding":{"x":{"field":"t","type":"quantitative","scale":{"domain":[0,120],"nice":false},"axis":{"values":[0,24,48,72,96,120],"title":"survival months","labelOverlap":false}},"y":{"field":"s","type":"quantitative","scale":{"domain":[80,100],"nice":false,"zero":false},"axis":{"values":[80,85,90,95,100],"title":"percent survival","labelOverlap":false}},"stroke":{"field":"g","type":"nominal","scale":{"domain":["heterogeneity","homogeneity"],"range":["#2222f2","#f5b57a"]},"legend":{"orient":"none","legendX":186,"legendY":11.5,"direction":"vertical","title":null,"symbolType":"M-1,0H1M0,0V-0.7","symbolSize":225,"symbolStrokeWidth":1.5,"labelFont":"Liberation Serif","labelFontSize":12,"labelOffset":10,"rowPadding":4,"padding":0}}}},
{"data":{"name":"cens"},"transform":[{"filter":"datum.p==='E' && datum.g==='homogeneity'"}],"mark":{"type":"point","shape":"M0,0V-1","filled":false,"size":40,"strokeWidth":1.2,"opacity":1},"encoding":{"x":{"field":"t","type":"quantitative","scale":{"domain":[0,120],"nice":false},"axis":{"values":[0,24,48,72,96,120],"title":"survival months","labelOverlap":false}},"y":{"field":"s","type":"quantitative","scale":{"domain":[80,100],"nice":false,"zero":false},"axis":{"values":[80,85,90,95,100],"title":"percent survival","labelOverlap":false}},"stroke":{"field":"g","type":"nominal","scale":{"domain":["heterogeneity","homogeneity"],"range":["#2222f2","#f5b57a"]},"legend":{"orient":"none","legendX":186,"legendY":11.5,"direction":"vertical","title":null,"symbolType":"M-1,0H1M0,0V-0.7","symbolSize":225,"symbolStrokeWidth":1.5,"labelFont":"Liberation Serif","labelFontSize":12,"labelOffset":10,"rowPadding":4,"padding":0}}}},
{"data":{"name":"km"},"transform":[{"filter":"datum.p==='E' && datum.g==='heterogeneity'"}],"mark":{"type":"area","interpolate":"step-after","fillOpacity":0.3,"opacity":1},"encoding":{"x":{"field":"t","type":"quantitative","scale":{"domain":[0,120],"nice":false},"axis":{"values":[0,24,48,72,96,120],"title":"survival months","labelOverlap":false}},"y":{"field":"lo","type":"quantitative","scale":{"domain":[80,100],"nice":false,"zero":false},"axis":{"values":[80,85,90,95,100],"title":"percent survival","labelOverlap":false}},"y2":{"field":"hi"},"fill":{"field":"g","type":"nominal","scale":{"domain":["heterogeneity","homogeneity"],"range":["#2828f0","#f5a55a"]},"legend":{"orient":"none","legendX":186,"legendY":11.5,"direction":"vertical","title":null,"symbolType":"M-1,0H1M0,0V-0.7","symbolSize":225,"symbolStrokeWidth":1.5,"labelFont":"Liberation Serif","labelFontSize":12,"labelOffset":10,"rowPadding":4,"padding":0}}}},
{"data":{"name":"km"},"transform":[{"filter":"datum.p==='E' && datum.g==='heterogeneity'"}],"mark":{"type":"line","interpolate":"step-after","strokeWidth":1.5},"encoding":{"x":{"field":"t","type":"quantitative","scale":{"domain":[0,120],"nice":false},"axis":{"values":[0,24,48,72,96,120],"title":"survival months","labelOverlap":false}},"y":{"field":"s","type":"quantitative","scale":{"domain":[80,100],"nice":false,"zero":false},"axis":{"values":[80,85,90,95,100],"title":"percent survival","labelOverlap":false}},"stroke":{"field":"g","type":"nominal","scale":{"domain":["heterogeneity","homogeneity"],"range":["#2222f2","#f5b57a"]},"legend":{"orient":"none","legendX":186,"legendY":11.5,"direction":"vertical","title":null,"symbolType":"M-1,0H1M0,0V-0.7","symbolSize":225,"symbolStrokeWidth":1.5,"labelFont":"Liberation Serif","labelFontSize":12,"labelOffset":10,"rowPadding":4,"padding":0}}}},
{"data":{"name":"cens"},"transform":[{"filter":"datum.p==='E' && datum.g==='heterogeneity'"}],"mark":{"type":"point","shape":"M0,0V-1","filled":false,"size":40,"strokeWidth":1.3,"opacity":1},"encoding":{"x":{"field":"t","type":"quantitative","scale":{"domain":[0,120],"nice":false},"axis":{"values":[0,24,48,72,96,120],"title":"survival months","labelOverlap":false}},"y":{"field":"s","type":"quantitative","scale":{"domain":[80,100],"nice":false,"zero":false},"axis":{"values":[80,85,90,95,100],"title":"percent survival","labelOverlap":false}},"stroke":{"field":"g","type":"nominal","scale":{"domain":["heterogeneity","homogeneity"],"range":["#2222f2","#f5b57a"]},"legend":{"orient":"none","legendX":186,"legendY":11.5,"direction":"vertical","title":null,"symbolType":"M-1,0H1M0,0V-0.7","symbolSize":225,"symbolStrokeWidth":1.5,"labelFont":"Liberation Serif","labelFontSize":12,"labelOffset":10,"rowPadding":4,"padding":0}}}},
{"data":{"values":[{}]},"mark":{"type":"rule","strokeDash":[1.5,2.5],"strokeWidth":1.4,"color":"#000"},"encoding":{"x":{"datum":60,"type":"quantitative"}}},
{"data":{"values":[{}]},"mark":{"type":"text","text":["log-rank P > 0.05","HR = 0.935","χ² = 0.093"],"font":"Liberation Serif","fontWeight":"bold","fontSize":11,"lineHeight":12,"align":"center","baseline":"middle","color":"#000"},"encoding":{"x":{"datum":29.2,"type":"quantitative"},"y":{"datum":85.3,"type":"quantitative"}}}
]}]},
{"title":{"text":"F","anchor":"start","frame":"bounds","offset":-12.5,"dx":-5,"fontSize":14,"fontWeight":"normal"},
"vconcat":[{"width":224,"height":151,"title":{"text":"overall survival","offset":7},
"layer":[
{"data":{"name":"km"},"transform":[{"filter":"datum.p==='F' && datum.g==='homogeneity'"}],"mark":{"type":"area","interpolate":"step-after","fillOpacity":0.3,"opacity":1},"encoding":{"x":{"field":"t","type":"quantitative","scale":{"domain":[0,120],"nice":false},"axis":{"values":[0,24,48,72,96,120],"title":"survival months","labelOverlap":false}},"y":{"field":"lo","type":"quantitative","scale":{"domain":[60,100],"nice":false,"zero":false},"axis":{"values":[60,70,80,90,100],"title":"percent survival","labelOverlap":false}},"y2":{"field":"hi"},"fill":{"field":"g","type":"nominal","scale":{"domain":["heterogeneity","homogeneity"],"range":["#2828f0","#f5a55a"]},"legend":{"orient":"none","legendX":195,"legendY":11,"direction":"vertical","title":null,"symbolType":"M-1,0H1M0,0V-0.7","symbolSize":256,"symbolStrokeWidth":1.5,"labelFont":"Liberation Serif","labelFontSize":12,"labelOffset":9,"rowPadding":5,"padding":0}}}},
{"data":{"name":"km"},"transform":[{"filter":"datum.p==='F' && datum.g==='homogeneity'"}],"mark":{"type":"line","interpolate":"step-after","strokeWidth":1.3},"encoding":{"x":{"field":"t","type":"quantitative","scale":{"domain":[0,120],"nice":false},"axis":{"values":[0,24,48,72,96,120],"title":"survival months","labelOverlap":false}},"y":{"field":"s","type":"quantitative","scale":{"domain":[60,100],"nice":false,"zero":false},"axis":{"values":[60,70,80,90,100],"title":"percent survival","labelOverlap":false}},"stroke":{"field":"g","type":"nominal","scale":{"domain":["heterogeneity","homogeneity"],"range":["#2222f2","#f5b57a"]},"legend":{"orient":"none","legendX":195,"legendY":11,"direction":"vertical","title":null,"symbolType":"M-1,0H1M0,0V-0.7","symbolSize":256,"symbolStrokeWidth":1.5,"labelFont":"Liberation Serif","labelFontSize":12,"labelOffset":9,"rowPadding":5,"padding":0}}}},
{"data":{"name":"cens"},"transform":[{"filter":"datum.p==='F' && datum.g==='homogeneity'"}],"mark":{"type":"point","shape":"M0,0V-1","filled":false,"size":40,"strokeWidth":1.2,"opacity":1},"encoding":{"x":{"field":"t","type":"quantitative","scale":{"domain":[0,120],"nice":false},"axis":{"values":[0,24,48,72,96,120],"title":"survival months","labelOverlap":false}},"y":{"field":"s","type":"quantitative","scale":{"domain":[60,100],"nice":false,"zero":false},"axis":{"values":[60,70,80,90,100],"title":"percent survival","labelOverlap":false}},"stroke":{"field":"g","type":"nominal","scale":{"domain":["heterogeneity","homogeneity"],"range":["#2222f2","#f5b57a"]},"legend":{"orient":"none","legendX":195,"legendY":11,"direction":"vertical","title":null,"symbolType":"M-1,0H1M0,0V-0.7","symbolSize":256,"symbolStrokeWidth":1.5,"labelFont":"Liberation Serif","labelFontSize":12,"labelOffset":9,"rowPadding":5,"padding":0}}}},
{"data":{"name":"km"},"transform":[{"filter":"datum.p==='F' && datum.g==='heterogeneity'"}],"mark":{"type":"area","interpolate":"step-after","fillOpacity":0.3,"opacity":1},"encoding":{"x":{"field":"t","type":"quantitative","scale":{"domain":[0,120],"nice":false},"axis":{"values":[0,24,48,72,96,120],"title":"survival months","labelOverlap":false}},"y":{"field":"lo","type":"quantitative","scale":{"domain":[60,100],"nice":false,"zero":false},"axis":{"values":[60,70,80,90,100],"title":"percent survival","labelOverlap":false}},"y2":{"field":"hi"},"fill":{"field":"g","type":"nominal","scale":{"domain":["heterogeneity","homogeneity"],"range":["#2828f0","#f5a55a"]},"legend":{"orient":"none","legendX":195,"legendY":11,"direction":"vertical","title":null,"symbolType":"M-1,0H1M0,0V-0.7","symbolSize":256,"symbolStrokeWidth":1.5,"labelFont":"Liberation Serif","labelFontSize":12,"labelOffset":9,"rowPadding":5,"padding":0}}}},
{"data":{"name":"km"},"transform":[{"filter":"datum.p==='F' && datum.g==='heterogeneity'"}],"mark":{"type":"line","interpolate":"step-after","strokeWidth":1.5},"encoding":{"x":{"field":"t","type":"quantitative","scale":{"domain":[0,120],"nice":false},"axis":{"values":[0,24,48,72,96,120],"title":"survival months","labelOverlap":false}},"y":{"field":"s","type":"quantitative","scale":{"domain":[60,100],"nice":false,"zero":false},"axis":{"values":[60,70,80,90,100],"title":"percent survival","labelOverlap":false}},"stroke":{"field":"g","type":"nominal","scale":{"domain":["heterogeneity","homogeneity"],"range":["#2222f2","#f5b57a"]},"legend":{"orient":"none","legendX":195,"legendY":11,"direction":"vertical","title":null,"symbolType":"M-1,0H1M0,0V-0.7","symbolSize":256,"symbolStrokeWidth":1.5,"labelFont":"Liberation Serif","labelFontSize":12,"labelOffset":9,"rowPadding":5,"padding":0}}}},
{"data":{"name":"cens"},"transform":[{"filter":"datum.p==='F' && datum.g==='heterogeneity'"}],"mark":{"type":"point","shape":"M0,0V-1","filled":false,"size":40,"strokeWidth":1.3,"opacity":1},"encoding":{"x":{"field":"t","type":"quantitative","scale":{"domain":[0,120],"nice":false},"axis":{"values":[0,24,48,72,96,120],"title":"survival months","labelOverlap":false}},"y":{"field":"s","type":"quantitative","scale":{"domain":[60,100],"nice":false,"zero":false},"axis":{"values":[60,70,80,90,100],"title":"percent survival","labelOverlap":false}},"stroke":{"field":"g","type":"nominal","scale":{"domain":["heterogeneity","homogeneity"],"range":["#2222f2","#f5b57a"]},"legend":{"orient":"none","legendX":195,"legendY":11,"direction":"vertical","title":null,"symbolType":"M-1,0H1M0,0V-0.7","symbolSize":256,"symbolStrokeWidth":1.5,"labelFont":"Liberation Serif","labelFontSize":12,"labelOffset":9,"rowPadding":5,"padding":0}}}},
{"data":{"values":[{}]},"mark":{"type":"rule","strokeDash":[1.5,2.5],"strokeWidth":1.4,"color":"#000"},"encoding":{"x":{"datum":60,"type":"quantitative"}}},
{"data":{"values":[{}]},"mark":{"type":"text","text":["log-rank P > 0.05","HR = 1.059","χ² = 0.156"],"font":"Liberation Serif","fontWeight":"bold","fontSize":11,"lineHeight":12,"align":"center","baseline":"middle","color":"#000"},"encoding":{"x":{"datum":31.6,"type":"quantitative"},"y":{"datum":70.7,"type":"quantitative"}}}
]}]}
]}
],
"config":{
"view":{"stroke":null},
"font":"Liberation Serif",
"title":{"font":"Liberation Serif","fontSize":14,"fontWeight":"bold","color":"#000"},
"axis":{"grid":false,"domainColor":"#000","domainWidth":2,"tickColor":"#000","tickWidth":1.5,"tickSize":3,"labelFont":"Liberation Serif","labelFontSize":10.5,"labelFontWeight":"bold","labelColor":"#000","labelPadding":1,"labelFlush":false,"labelOverlap":false,"labelSeparation":-20,"labelBound":false,"titleFont":"Liberation Serif","titleFontSize":11.5,"titleFontWeight":"bold","titleColor":"#000"},
"axisX":{"titlePadding":4,"labelPadding":2},
"axisY":{"titlePadding":2},
"legend":{"labelColor":"#000"}
}
}
